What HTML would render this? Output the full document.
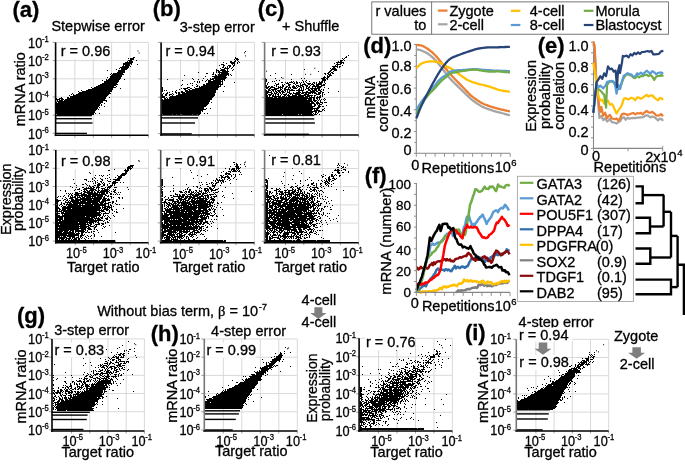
<!DOCTYPE html>
<html><head><meta charset="utf-8"><style>
html,body{margin:0;padding:0;background:#fff;}
svg{display:block;font-family:"Liberation Sans", sans-serif;will-change:transform;}
text{stroke:#000;stroke-width:0.3px;}
</style></head><body>
<svg width="685" height="473" viewBox="0 0 685 473">
<defs><filter id="soft" x="-5%" y="-5%" width="110%" height="110%"><feGaussianBlur stdDeviation="0.55"/></filter></defs>
<rect width="685" height="473" fill="#fff"/>
<line x1="74.88" y1="42.40" x2="74.88" y2="135.30" stroke="#d9d9d9" stroke-width="1"/>
<line x1="93.26" y1="42.40" x2="93.26" y2="135.30" stroke="#d9d9d9" stroke-width="1"/>
<line x1="111.64" y1="42.40" x2="111.64" y2="135.30" stroke="#d9d9d9" stroke-width="1"/>
<line x1="130.02" y1="42.40" x2="130.02" y2="135.30" stroke="#d9d9d9" stroke-width="1"/>
<line x1="148.40" y1="42.40" x2="148.40" y2="135.30" stroke="#d9d9d9" stroke-width="1"/>
<line x1="55.60" y1="42.40" x2="148.40" y2="42.40" stroke="#d9d9d9" stroke-width="1"/>
<line x1="55.60" y1="60.60" x2="148.40" y2="60.60" stroke="#d9d9d9" stroke-width="1"/>
<line x1="55.60" y1="78.80" x2="148.40" y2="78.80" stroke="#d9d9d9" stroke-width="1"/>
<line x1="55.60" y1="97.00" x2="148.40" y2="97.00" stroke="#d9d9d9" stroke-width="1"/>
<line x1="55.60" y1="115.20" x2="148.40" y2="115.20" stroke="#d9d9d9" stroke-width="1"/>
<g filter="url(#soft)"><path d="M133 57.5h2m-7 1h1m1 0h4m-4 1h4m-6 1h4m4 0h1m-10 1h1m1 0h4m-8 1h8m-10 1h9m-9 1h7m1 0h1m5 0h1m-15 1h1m1 0h5m-8 1h7m1 0h1m-11 1h9m-10 1h1m1 0h7m-12 1h1m4 0h6m-20 1h1m10 0h7m-7 1h7m-8 1h8m-14 1h1m1 0h10m-13 1h1m1 0h12m-13 1h11m-12 1h12m-15 1h1m2 0h11m-12 1h12m-15 1h1m1 0h12m4 0h1m-23 1h1m3 0h13m-15 1h15m-15 1h14m-16 1h15m-17 1h18m-20 1h18m-20 1h18m2 0h1m-26 1h1m2 0h22m-24 1h21m7 0h1m-33 1h25m-32 1h1m4 0h26m-34 1h1m3 0h30m-33 1h31m-38 1h1m5 0h33m-40 1h1m1 0h1m2 0h33m-40 1h1m3 0h35m-38 1h37m-46 1h1m5 0h2m1 0h36m3 0h1m-54 1h1m2 0h4m4 0h39m-50 1h4m1 0h3m1 0h40m-48 1h1m1 0h4m1 0h43m-50 1h46m3 0h1m-51 1h1m1 0h45m-47 1h45m3 0h1m-49 1h44m1 0h1m-46 1h44m1 0h1m-46 1h43m5 0h1m-49 1h42m1 0h1m-44 1h42m-42 1h41m1 0h1m-43 1h40m-40 1h39m-39 1h39m-39 1h38m1 0h1m3 0h1m-43 1h37" stroke="#000" stroke-width="1" fill="none"/>
<rect x="55.6" y="114.9" width="36.3" height="1.4" fill="#000" fill-opacity="1.0"/>
<rect x="55.6" y="118.0" width="36.3" height="1.4" fill="#000" fill-opacity="1.0"/>
<rect x="55.6" y="122.3" width="36.9" height="1.4" fill="#000" fill-opacity="1.0"/>
<rect x="55.6" y="132.7" width="31.4" height="1.4" fill="#000" fill-opacity="1.0"/>
<rect x="137.5" y="50.5" width="1" height="1"/>
<rect x="138.6" y="52.6" width="1" height="1"/>
</g>
<line x1="52.60" y1="42.40" x2="55.60" y2="42.40" stroke="#888" stroke-width="0.8"/>
<line x1="52.60" y1="60.60" x2="55.60" y2="60.60" stroke="#888" stroke-width="0.8"/>
<line x1="52.60" y1="78.80" x2="55.60" y2="78.80" stroke="#888" stroke-width="0.8"/>
<line x1="52.60" y1="97.00" x2="55.60" y2="97.00" stroke="#888" stroke-width="0.8"/>
<line x1="52.60" y1="115.20" x2="55.60" y2="115.20" stroke="#888" stroke-width="0.8"/>
<line x1="52.60" y1="133.40" x2="55.60" y2="133.40" stroke="#888" stroke-width="0.8"/>
<line x1="74.88" y1="135.30" x2="74.88" y2="137.80" stroke="#888" stroke-width="0.8"/>
<line x1="93.26" y1="135.30" x2="93.26" y2="137.80" stroke="#888" stroke-width="0.8"/>
<line x1="111.64" y1="135.30" x2="111.64" y2="137.80" stroke="#888" stroke-width="0.8"/>
<line x1="130.02" y1="135.30" x2="130.02" y2="137.80" stroke="#888" stroke-width="0.8"/>
<line x1="148.40" y1="135.30" x2="148.40" y2="137.80" stroke="#888" stroke-width="0.8"/>
<line x1="55.60" y1="42.40" x2="55.60" y2="136.10" stroke="#000" stroke-width="1.6"/>
<line x1="54.80" y1="135.30" x2="148.40" y2="135.30" stroke="#000" stroke-width="1.5"/>
<rect x="59.7" y="44.3" width="50.0" height="15" fill="#fff"/>
<text x="60.70" y="56.30" font-size="14.5" text-anchor="start" font-weight="normal" fill="#000" >r = 0.96</text>
<line x1="75.22" y1="150.10" x2="75.22" y2="242.70" stroke="#d9d9d9" stroke-width="1"/>
<line x1="93.54" y1="150.10" x2="93.54" y2="242.70" stroke="#d9d9d9" stroke-width="1"/>
<line x1="111.86" y1="150.10" x2="111.86" y2="242.70" stroke="#d9d9d9" stroke-width="1"/>
<line x1="130.18" y1="150.10" x2="130.18" y2="242.70" stroke="#d9d9d9" stroke-width="1"/>
<line x1="148.50" y1="150.10" x2="148.50" y2="242.70" stroke="#d9d9d9" stroke-width="1"/>
<line x1="55.80" y1="150.10" x2="148.50" y2="150.10" stroke="#d9d9d9" stroke-width="1"/>
<line x1="55.80" y1="168.30" x2="148.50" y2="168.30" stroke="#d9d9d9" stroke-width="1"/>
<line x1="55.80" y1="186.50" x2="148.50" y2="186.50" stroke="#d9d9d9" stroke-width="1"/>
<line x1="55.80" y1="204.70" x2="148.50" y2="204.70" stroke="#d9d9d9" stroke-width="1"/>
<line x1="55.80" y1="222.90" x2="148.50" y2="222.90" stroke="#d9d9d9" stroke-width="1"/>
<g filter="url(#soft)"><path d="M90 160.5h1m14 0h1m-15 5h1m38 0h4m-6 1h5m-6 1h4m1 0h1m-6 1h5m-18 1h1m10 0h1m1 0h2m1 0h1m-23 1h2m14 0h5m-4 1h3m-39 1h1m35 0h2m-37 1h1m31 0h5m-18 1h1m11 0h5m-31 1h1m3 0h1m1 0h1m1 0h1m3 0h1m9 0h1m2 0h5m-23 1h1m15 0h4m-28 1h1m14 0h1m5 0h1m2 0h4m-30 1h1m2 0h1m4 0h1m4 0h1m1 0h1m9 0h4m-48 1h1m10 0h3m5 0h1m8 0h2m7 0h1m2 0h7m-34 1h1m7 0h1m2 0h1m4 0h1m4 0h1m7 0h5m-32 1h1m1 0h1m1 0h1m2 0h1m4 0h2m6 0h3m2 0h3m-21 1h1m1 0h1m3 0h1m1 0h1m8 0h6m2 0h1m2 0h1m-50 1h1m10 0h1m7 0h1m1 0h1m2 0h2m2 0h1m1 0h1m4 0h1m2 0h4m-34 1h2m2 0h1m10 0h4m2 0h2m2 0h1m4 0h1m1 0h1m-39 1h1m10 0h1m1 0h1m4 0h2m1 0h3m3 0h2m2 0h1m2 0h3m1 0h1m-45 1h1m18 0h2m1 0h2m3 0h2m2 0h2m5 0h4m-40 1h1m3 0h1m5 0h2m2 0h1m1 0h1m1 0h2m1 0h2m1 0h4m5 0h1m1 0h4m3 0h3m10 0h1m-49 1h1m4 0h10m2 0h1m1 0h1m2 0h4m2 0h1m1 0h1m-35 1h1m1 0h3m3 0h4m3 0h6m2 0h1m3 0h1m1 0h5m4 0h1m1 0h1m12 0h1m-69 1h1m4 0h1m8 0h1m6 0h1m2 0h1m1 0h2m1 0h5m1 0h2m1 0h2m1 0h7m1 0h1m4 0h2m-51 1h1m13 0h1m3 0h3m1 0h3m1 0h2m1 0h1m2 0h2m1 0h9m2 0h1m1 0h2m-40 1h3m3 0h1m2 0h9m1 0h2m1 0h8m1 0h2m1 0h1m4 0h2m2 0h1m1 0h1m-55 1h1m1 0h1m1 0h1m1 0h1m2 0h7m1 0h2m2 0h11m1 0h1m1 0h4m1 0h2m2 0h2m4 0h1m-48 1h1m1 0h1m2 0h5m2 0h6m1 0h18m4 0h2m1 0h1m1 0h1m1 0h1m1 0h1m-56 1h1m3 0h1m2 0h2m2 0h16m1 0h11m2 0h2m1 0h1m-51 1h1m1 0h1m2 0h1m4 0h1m1 0h1m1 0h1m1 0h2m1 0h1m1 0h1m1 0h2m1 0h12m1 0h6m1 0h1m2 0h2m1 0h2m-55 1h1m7 0h1m4 0h6m1 0h4m1 0h3m1 0h5m1 0h1m1 0h8m1 0h2m6 0h1m1 0h1m4 0h2m2 0h1m-61 1h1m3 0h1m2 0h4m2 0h3m2 0h22m1 0h4m1 0h1m2 0h1m7 0h1m2 0h1m-67 1h2m6 0h2m1 0h1m3 0h3m1 0h17m1 0h8m1 0h4m1 0h3m-54 1h5m2 0h1m2 0h2m1 0h1m1 0h10m1 0h18m2 0h8m6 0h1m-61 1h3m6 0h1m2 0h1m1 0h9m1 0h6m1 0h13m1 0h5m6 0h2m2 0h1m-61 1h2m3 0h1m3 0h6m1 0h26m1 0h5m1 0h1m2 0h3m1 0h2m-58 1h2m3 0h1m1 0h2m2 0h1m1 0h3m1 0h18m1 0h7m1 0h3m1 0h5m3 0h1m2 0h1m-59 1h1m2 0h2m2 0h1m1 0h12m1 0h2m1 0h1m2 0h21m2 0h1m1 0h1m5 0h2m1 0h1m-64 1h2m1 0h1m2 0h1m3 0h1m1 0h25m1 0h12m2 0h1m1 0h2m-56 1h2m3 0h1m1 0h3m1 0h14m1 0h18m2 0h1m1 0h6m1 0h1m1 0h1m-58 1h3m3 0h39m1 0h4m1 0h5m-56 1h4m2 0h9m1 0h29m1 0h1m1 0h4m1 0h1m1 0h1m11 0h1m-68 1h2m1 0h2m1 0h4m1 0h33m1 0h1m1 0h6m2 0h2m3 0h1m-61 1h2m1 0h1m1 0h43m2 0h2m1 0h1m2 0h1m-57 1h6m1 0h34m2 0h1m1 0h4m4 0h1m4 0h1m1 0h1m-60 1h1m3 0h3m1 0h36m4 0h1m3 0h1m6 0h2m-62 1h4m1 0h39m1 0h1m1 0h6m3 0h1m-57 1h2m4 0h1m1 0h37m2 0h1m-48 1h4m2 0h39m2 0h1m1 0h1m1 0h1m5 0h1m-58 1h29m1 0h11m2 0h1m2 0h1m1 0h1m3 0h1m5 0h1m-59 1h7m1 0h26m1 0h4m1 0h1m1 0h1m1 0h3m4 0h1m1 0h1m-54 1h2m1 0h4m1 0h29m1 0h6m1 0h2m2 0h3m2 0h1m-55 1h7m1 0h30m1 0h1m1 0h4m5 0h2m-52 1h5m1 0h41m1 0h1m4 0h1m-54 1h2m1 0h29m1 0h8m1 0h1m4 0h1m3 0h1m-52 1h22m1 0h15m1 0h1m1 0h2m6 0h1m1 0h2m-53 1h30m1 0h1m1 0h3m1 0h1m4 0h2m1 0h3m1 0h1m-50 1h3m1 0h29m1 0h2m3 0h5m2 0h2m-48 1h23m1 0h6m2 0h3m3 0h1m1 0h1m4 0h1m7 0h1m-54 1h33m1 0h4m1 0h2m6 0h1m1 0h1m-50 1h2m1 0h20m1 0h7m1 0h2m4 0h2m8 0h1m-49 1h30m1 0h4m3 0h1m7 0h1m-47 1h23m2 0h5m2 0h4m2 0h1m1 0h1m-41 1h2m1 0h10m1 0h4m1 0h9m1 0h1m1 0h1m9 0h1m-42 1h7m1 0h4m1 0h2m1 0h2m1 0h10m2 0h1m3 0h1m1 0h2m-39 1h6m1 0h11m1 0h1m2 0h1m2 0h3m1 0h2m1 0h2m1 0h1m6 0h1m16 0h1m-60 1h19m1 0h4m1 0h2m10 0h1m-38 1h11m1 0h11m2 0h2m1 0h1m9 0h1m-39 1h23m1 0h4m3 0h1m3 0h1m2 0h1m-39 1h4m1 0h1m1 0h3m1 0h8m3 0h1m1 0h2m3 0h1m2 0h1m1 0h1m3 0h1m6 0h1m-46 1h11m2 0h2m1 0h3m1 0h3m1 0h1m1 0h1m3 0h1m-31 1h2m1 0h6m1 0h5m1 0h1m1 0h3m1 0h2m1 0h1m2 0h1m3 0h1m2 0h1m-36 1h2m1 0h1m1 0h3m1 0h2m1 0h2m1 0h1m1 0h4m1 0h2m5 0h1m-30 1h42m1 0h16m-59 1h20m1 0h9m1 0h28" stroke="#000" stroke-width="1" fill="none"/>
<rect x="55.8" y="240.5" width="59.7" height="1.4" fill="#000" fill-opacity="1.0"/>
<rect x="138.0" y="160.3" width="1" height="1"/>
<rect x="139.0" y="160.6" width="1" height="1"/>
</g>
<line x1="52.80" y1="150.10" x2="55.80" y2="150.10" stroke="#888" stroke-width="0.8"/>
<line x1="52.80" y1="168.30" x2="55.80" y2="168.30" stroke="#888" stroke-width="0.8"/>
<line x1="52.80" y1="186.50" x2="55.80" y2="186.50" stroke="#888" stroke-width="0.8"/>
<line x1="52.80" y1="204.70" x2="55.80" y2="204.70" stroke="#888" stroke-width="0.8"/>
<line x1="52.80" y1="222.90" x2="55.80" y2="222.90" stroke="#888" stroke-width="0.8"/>
<line x1="52.80" y1="241.10" x2="55.80" y2="241.10" stroke="#888" stroke-width="0.8"/>
<line x1="75.22" y1="242.70" x2="75.22" y2="245.20" stroke="#888" stroke-width="0.8"/>
<line x1="93.54" y1="242.70" x2="93.54" y2="245.20" stroke="#888" stroke-width="0.8"/>
<line x1="111.86" y1="242.70" x2="111.86" y2="245.20" stroke="#888" stroke-width="0.8"/>
<line x1="130.18" y1="242.70" x2="130.18" y2="245.20" stroke="#888" stroke-width="0.8"/>
<line x1="148.50" y1="242.70" x2="148.50" y2="245.20" stroke="#888" stroke-width="0.8"/>
<line x1="55.80" y1="150.10" x2="55.80" y2="243.50" stroke="#000" stroke-width="1.6"/>
<line x1="55.00" y1="242.70" x2="148.50" y2="242.70" stroke="#000" stroke-width="1.5"/>
<rect x="59.9" y="154.2" width="50.0" height="15" fill="#fff"/>
<text x="60.90" y="166.20" font-size="14.5" text-anchor="start" font-weight="normal" fill="#000" >r = 0.98</text>
<line x1="180.48" y1="42.40" x2="180.48" y2="134.90" stroke="#d9d9d9" stroke-width="1"/>
<line x1="198.96" y1="42.40" x2="198.96" y2="134.90" stroke="#d9d9d9" stroke-width="1"/>
<line x1="217.44" y1="42.40" x2="217.44" y2="134.90" stroke="#d9d9d9" stroke-width="1"/>
<line x1="235.92" y1="42.40" x2="235.92" y2="134.90" stroke="#d9d9d9" stroke-width="1"/>
<line x1="254.40" y1="42.40" x2="254.40" y2="134.90" stroke="#d9d9d9" stroke-width="1"/>
<line x1="161.10" y1="42.40" x2="254.40" y2="42.40" stroke="#d9d9d9" stroke-width="1"/>
<line x1="161.10" y1="60.65" x2="254.40" y2="60.65" stroke="#d9d9d9" stroke-width="1"/>
<line x1="161.10" y1="78.90" x2="254.40" y2="78.90" stroke="#d9d9d9" stroke-width="1"/>
<line x1="161.10" y1="97.15" x2="254.40" y2="97.15" stroke="#d9d9d9" stroke-width="1"/>
<line x1="161.10" y1="115.40" x2="254.40" y2="115.40" stroke="#d9d9d9" stroke-width="1"/>
<g filter="url(#soft)"><path d="M245 51.5h1m-11 6h1m-1 1h3m-4 1h1m1 0h3m-4 1h1m1 0h1m-8 1h2m2 0h2m2 0h1m-16 1h1m6 0h5m2 0h1m1 0h1m-14 1h1m4 0h4m2 0h1m-17 1h3m8 0h1m1 0h1m-16 1h1m3 0h2m3 0h3m2 0h2m-12 1h1m3 0h1m1 0h2m2 0h1m-12 1h2m1 0h1m1 0h1m1 0h1m2 0h1m-13 1h1m3 0h5m2 0h1m-16 1h1m4 0h4m2 0h1m5 0h1m-18 1h3m1 0h6m1 0h1m4 0h1m-17 1h1m1 0h2m2 0h7m-31 1h1m14 0h1m2 0h1m1 0h10m-22 1h2m5 0h1m5 0h1m1 0h8m-17 1h2m1 0h1m2 0h11m1 0h1m-47 1h1m30 0h2m1 0h9m1 0h1m2 0h1m-27 1h1m6 0h14m-12 1h13m-35 1h1m10 0h1m6 0h1m1 0h14m-59 1h1m25 0h1m4 0h1m8 0h1m2 0h4m1 0h10m-43 1h1m19 0h1m3 0h1m1 0h3m2 0h8m1 0h1m1 0h1m-31 1h1m2 0h1m1 0h1m5 0h1m2 0h15m-26 1h1m1 0h1m8 0h13m1 0h1m11 0h1m-45 1h1m1 0h1m13 0h15m1 0h1m-41 1h1m4 0h1m8 0h1m6 0h2m1 0h17m-42 1h1m10 0h1m4 0h1m5 0h16m1 0h1m-25 1h2m1 0h1m1 0h20m3 0h1m-63 1h1m24 0h3m4 0h1m4 0h20m-57 1h1m18 0h1m1 0h5m2 0h2m3 0h23m-56 1h1m16 0h1m4 0h2m2 0h2m2 0h26m-56 1h1m1 0h1m1 0h1m9 0h1m8 0h3m1 0h27m-54 1h1m9 0h1m2 0h1m5 0h2m2 0h31m7 0h1m-57 1h1m1 0h1m5 0h2m1 0h2m1 0h4m1 0h30m-53 1h1m2 0h2m4 0h1m3 0h1m1 0h2m2 0h33m-53 1h1m2 0h2m2 0h3m1 0h1m4 0h37m-53 1h1m2 0h2m2 0h1m2 0h1m3 0h39m-53 1h3m5 0h44m-52 1h3m1 0h1m2 0h44m-49 1h2m1 0h1m1 0h43m-50 1h1m1 0h48m-50 1h48m-48 1h48m-48 1h47m2 0h1m-50 1h47m-47 1h46m-46 1h45m-45 1h44m-44 1h42m-42 1h42m2 0h1m3 0h1m-49 1h44m-44 1h41m-41 1h39m1 0h1m-41 1h39m-39 1h39m3 0h1m2 0h1m-45 1h9m1 0h3m1 0h3m2 0h10m1 0h4m1 0h2" stroke="#000" stroke-width="1" fill="none"/>
<rect x="161.1" y="114.3" width="37.9" height="1.4" fill="#000" fill-opacity="1.0"/>
<rect x="161.1" y="117.2" width="36.9" height="1.4" fill="#000" fill-opacity="1.0"/>
<rect x="161.1" y="122.3" width="33.9" height="1.4" fill="#000" fill-opacity="1.0"/>
<rect x="161.1" y="133.2" width="30.7" height="1.4" fill="#000" fill-opacity="1.0"/>
<rect x="244.0" y="52.3" width="1" height="1"/>
<rect x="245.1" y="55.4" width="1" height="1"/>
</g>
<line x1="158.10" y1="42.40" x2="161.10" y2="42.40" stroke="#888" stroke-width="0.8"/>
<line x1="158.10" y1="60.65" x2="161.10" y2="60.65" stroke="#888" stroke-width="0.8"/>
<line x1="158.10" y1="78.90" x2="161.10" y2="78.90" stroke="#888" stroke-width="0.8"/>
<line x1="158.10" y1="97.15" x2="161.10" y2="97.15" stroke="#888" stroke-width="0.8"/>
<line x1="158.10" y1="115.40" x2="161.10" y2="115.40" stroke="#888" stroke-width="0.8"/>
<line x1="158.10" y1="133.65" x2="161.10" y2="133.65" stroke="#888" stroke-width="0.8"/>
<line x1="180.48" y1="134.90" x2="180.48" y2="137.40" stroke="#888" stroke-width="0.8"/>
<line x1="198.96" y1="134.90" x2="198.96" y2="137.40" stroke="#888" stroke-width="0.8"/>
<line x1="217.44" y1="134.90" x2="217.44" y2="137.40" stroke="#888" stroke-width="0.8"/>
<line x1="235.92" y1="134.90" x2="235.92" y2="137.40" stroke="#888" stroke-width="0.8"/>
<line x1="254.40" y1="134.90" x2="254.40" y2="137.40" stroke="#888" stroke-width="0.8"/>
<line x1="161.10" y1="42.40" x2="161.10" y2="135.70" stroke="#000" stroke-width="1.6"/>
<line x1="160.30" y1="134.90" x2="254.40" y2="134.90" stroke="#000" stroke-width="1.5"/>
<rect x="164.4" y="44.2" width="50.0" height="15" fill="#fff"/>
<text x="165.40" y="56.20" font-size="14.5" text-anchor="start" font-weight="normal" fill="#000" >r = 0.94</text>
<line x1="180.48" y1="150.10" x2="180.48" y2="242.70" stroke="#d9d9d9" stroke-width="1"/>
<line x1="198.96" y1="150.10" x2="198.96" y2="242.70" stroke="#d9d9d9" stroke-width="1"/>
<line x1="217.44" y1="150.10" x2="217.44" y2="242.70" stroke="#d9d9d9" stroke-width="1"/>
<line x1="235.92" y1="150.10" x2="235.92" y2="242.70" stroke="#d9d9d9" stroke-width="1"/>
<line x1="254.40" y1="150.10" x2="254.40" y2="242.70" stroke="#d9d9d9" stroke-width="1"/>
<line x1="160.70" y1="150.10" x2="254.40" y2="150.10" stroke="#d9d9d9" stroke-width="1"/>
<line x1="160.70" y1="168.30" x2="254.40" y2="168.30" stroke="#d9d9d9" stroke-width="1"/>
<line x1="160.70" y1="186.50" x2="254.40" y2="186.50" stroke="#d9d9d9" stroke-width="1"/>
<line x1="160.70" y1="204.70" x2="254.40" y2="204.70" stroke="#d9d9d9" stroke-width="1"/>
<line x1="160.70" y1="222.90" x2="254.40" y2="222.90" stroke="#d9d9d9" stroke-width="1"/>
<g filter="url(#soft)"><path d="M213 157.5h1m19 5h2m1 1h1m-58 1h1m54 0h1m1 0h2m2 0h1m3 0h1m-9 1h2m-8 1h1m4 0h4m6 0h1m-10 1h3m1 0h1m-61 1h1m44 0h1m3 0h1m2 0h3m1 0h4m-11 1h1m1 0h4m1 0h1m1 0h1m-49 1h1m40 0h1m1 0h3m1 0h1m1 0h1m-17 1h1m4 0h3m1 0h5m1 0h2m-49 1h1m29 0h1m4 0h1m3 0h1m9 0h1m-16 1h5m-23 1h1m17 0h2m1 0h3m2 0h1m1 0h1m3 0h1m1 0h1m-45 1h1m22 0h2m1 0h1m3 0h1m3 0h1m3 0h1m-35 1h1m19 0h2m2 0h4m2 0h1m3 0h1m-64 1h1m46 0h1m1 0h5m1 0h3m4 0h1m-42 1h1m22 0h1m4 0h1m2 0h1m3 0h2m3 0h1m-73 1h2m53 0h2m1 0h1m2 0h1m1 0h1m2 0h1m2 0h1m5 0h1m-76 1h2m50 0h1m1 0h1m1 0h7m5 0h1m-69 1h2m52 0h1m2 0h1m1 0h1m1 0h2m1 0h1m-65 1h2m36 0h1m1 0h1m4 0h1m4 0h2m3 0h3m2 0h1m1 0h1m-63 1h2m46 0h1m1 0h1m1 0h1m1 0h2m4 0h1m8 0h1m-70 1h2m23 0h1m15 0h1m3 0h2m4 0h1m2 0h1m-55 1h2m10 0h1m26 0h1m11 0h4m4 0h1m-60 1h1m2 0h1m28 0h1m2 0h2m9 0h2m3 0h3m-53 1h1m25 0h1m8 0h1m2 0h1m8 0h2m3 0h1m10 0h1m-65 1h1m11 0h1m13 0h1m11 0h1m1 0h1m2 0h4m1 0h3m1 0h1m4 0h1m-58 1h2m22 0h1m1 0h1m1 0h2m13 0h2m1 0h2m1 0h3m2 0h3m-57 1h1m11 0h1m9 0h1m5 0h2m4 0h2m2 0h1m1 0h1m2 0h5m2 0h5m-55 1h2m7 0h1m2 0h1m5 0h3m3 0h2m1 0h2m1 0h1m1 0h1m2 0h1m2 0h3m3 0h2m1 0h1m2 0h1m6 0h1m3 0h1m28 0h1m-91 1h2m17 0h3m1 0h1m1 0h1m1 0h2m1 0h3m1 0h1m1 0h2m2 0h1m1 0h1m1 0h1m1 0h1m1 0h1m3 0h1m1 0h3m-57 1h2m12 0h1m9 0h1m4 0h2m2 0h1m1 0h1m1 0h3m1 0h5m7 0h1m17 0h1m-71 1h1m12 0h3m1 0h1m2 0h3m1 0h1m1 0h6m1 0h6m1 0h2m3 0h1m1 0h5m1 0h1m-55 1h2m7 0h2m1 0h1m3 0h1m1 0h2m1 0h3m2 0h1m2 0h1m1 0h7m2 0h2m1 0h5m1 0h1m5 0h1m6 0h1m-63 1h2m2 0h1m7 0h11m1 0h7m1 0h5m1 0h5m1 0h1m1 0h2m2 0h1m1 0h4m5 0h1m-59 1h1m3 0h1m2 0h2m5 0h2m1 0h3m1 0h3m1 0h6m2 0h4m2 0h1m1 0h1m1 0h2m1 0h2m2 0h1m9 0h1m-64 1h2m5 0h1m4 0h1m4 0h4m2 0h3m1 0h3m1 0h15m1 0h1m2 0h3m19 0h1m-73 1h2m2 0h3m1 0h5m2 0h2m1 0h7m2 0h2m1 0h2m1 0h2m1 0h1m1 0h5m1 0h3m2 0h5m-54 1h2m2 0h1m2 0h6m3 0h2m1 0h2m1 0h1m1 0h4m2 0h4m1 0h11m2 0h1m2 0h3m-54 1h1m2 0h2m6 0h7m1 0h1m1 0h4m1 0h1m1 0h21m1 0h1m1 0h1m-53 1h6m1 0h2m2 0h1m1 0h2m1 0h13m1 0h15m1 0h7m3 0h1m3 0h1m-61 1h1m2 0h1m1 0h2m1 0h3m1 0h4m1 0h2m1 0h10m1 0h16m1 0h2m1 0h1m4 0h2m-58 1h2m1 0h1m2 0h3m1 0h3m1 0h1m1 0h2m2 0h6m1 0h7m1 0h1m1 0h13m3 0h1m-54 1h2m1 0h1m1 0h1m1 0h3m1 0h17m1 0h2m1 0h15m1 0h4m4 0h1m-57 1h2m1 0h1m2 0h2m1 0h1m1 0h6m1 0h1m1 0h1m1 0h14m1 0h13m1 0h1m1 0h1m-54 1h2m3 0h1m1 0h1m2 0h8m1 0h29m2 0h1m4 0h1m3 0h1m-60 1h2m1 0h2m1 0h1m1 0h3m1 0h9m1 0h14m1 0h9m2 0h1m1 0h1m1 0h1m-53 1h2m2 0h15m1 0h15m2 0h3m2 0h4m1 0h3m1 0h1m1 0h2m6 0h1m-62 1h2m2 0h6m2 0h1m1 0h10m1 0h6m1 0h15m1 0h2m3 0h1m-54 1h4m1 0h14m1 0h12m1 0h10m1 0h4m4 0h2m-54 1h1m2 0h1m1 0h18m1 0h2m1 0h13m1 0h6m2 0h1m3 0h1m-54 1h2m1 0h3m2 0h41m1 0h1m3 0h1m-55 1h2m1 0h8m1 0h27m1 0h1m1 0h1m1 0h5m4 0h1m-54 1h8m1 0h22m1 0h6m1 0h6m1 0h1m2 0h4m2 0h1m6 0h1m-63 1h7m2 0h33m1 0h1m1 0h3m3 0h1m3 0h2m-57 1h20m1 0h17m1 0h7m1 0h1m-48 1h21m1 0h6m1 0h8m3 0h6m1 0h1m-48 1h9m1 0h1m1 0h2m1 0h1m1 0h28m5 0h1m2 0h1m1 0h1m-56 1h2m1 0h23m1 0h7m1 0h2m1 0h4m2 0h1m-45 1h1m2 0h26m1 0h12m2 0h3m2 0h1m1 0h1m-52 1h2m1 0h4m1 0h13m1 0h16m1 0h2m1 0h5m5 0h1m-53 1h2m1 0h5m1 0h24m1 0h2m1 0h4m1 0h2m2 0h2m2 0h1m-51 1h4m1 0h29m1 0h2m1 0h2m1 0h2m5 0h1m-49 1h11m1 0h3m1 0h3m1 0h8m1 0h1m1 0h2m1 0h2m1 0h1m6 0h1m-45 1h8m1 0h15m1 0h6m1 0h7m1 0h3m3 0h1m3 0h1m-51 1h37m1 0h3m4 0h2m-46 1h6m1 0h29m1 0h3m1 0h1m13 0h1m-57 1h2m1 0h2m1 0h28m1 0h1m1 0h2m1 0h1m3 0h1m-45 1h2m1 0h8m1 0h9m1 0h2m1 0h2m1 0h1m3 0h5m2 0h2m1 0h2m2 0h1m-46 1h14m1 0h1m1 0h11m2 0h3m2 0h2m1 0h1m4 0h1m-45 1h5m2 0h9m2 0h3m1 0h5m2 0h3m1 0h6m-39 1h3m3 0h5m1 0h1m1 0h1m1 0h3m1 0h2m3 0h1m2 0h2m1 0h1m1 0h1m1 0h1m4 0h1m-41 1h5m1 0h8m1 0h2m1 0h3m2 0h2m2 0h8m4 0h1m1 0h2m-43 1h7m1 0h6m2 0h1m1 0h6m4 0h1m1 0h2m3 0h1m-36 1h3m2 0h4m1 0h2m1 0h9m1 0h1m1 0h2m2 0h2m1 0h1m10 0h1m-44 1h2m1 0h7m1 0h4m1 0h5m1 0h1m2 0h1m1 0h1m3 0h1m4 0h1m-37 1h2m1 0h1m1 0h4m1 0h1m1 0h1m1 0h1m1 0h1m1 0h1m1 0h2m3 0h1m1 0h1m7 0h1m9 0h1m-46 1h1m3 0h5m1 0h7m2 0h1m3 0h1m3 0h2m3 0h2m10 0h1m-45 1h11m1 0h50m1 0h2m-65 1h3m1 0h29m1 0h3m1 0h6m1 0h20" stroke="#000" stroke-width="1" fill="none"/>
<rect x="160.7" y="240.8" width="64.9" height="1.4" fill="#000" fill-opacity="1.0"/>
<rect x="244.0" y="162.3" width="1" height="1"/>
<rect x="245.0" y="161.5" width="1" height="1"/>
</g>
<line x1="157.70" y1="150.10" x2="160.70" y2="150.10" stroke="#888" stroke-width="0.8"/>
<line x1="157.70" y1="168.30" x2="160.70" y2="168.30" stroke="#888" stroke-width="0.8"/>
<line x1="157.70" y1="186.50" x2="160.70" y2="186.50" stroke="#888" stroke-width="0.8"/>
<line x1="157.70" y1="204.70" x2="160.70" y2="204.70" stroke="#888" stroke-width="0.8"/>
<line x1="157.70" y1="222.90" x2="160.70" y2="222.90" stroke="#888" stroke-width="0.8"/>
<line x1="157.70" y1="241.10" x2="160.70" y2="241.10" stroke="#888" stroke-width="0.8"/>
<line x1="180.48" y1="242.70" x2="180.48" y2="245.20" stroke="#888" stroke-width="0.8"/>
<line x1="198.96" y1="242.70" x2="198.96" y2="245.20" stroke="#888" stroke-width="0.8"/>
<line x1="217.44" y1="242.70" x2="217.44" y2="245.20" stroke="#888" stroke-width="0.8"/>
<line x1="235.92" y1="242.70" x2="235.92" y2="245.20" stroke="#888" stroke-width="0.8"/>
<line x1="254.40" y1="242.70" x2="254.40" y2="245.20" stroke="#888" stroke-width="0.8"/>
<line x1="160.70" y1="150.10" x2="160.70" y2="243.50" stroke="#555" stroke-width="1.6"/>
<line x1="159.90" y1="242.70" x2="254.40" y2="242.70" stroke="#000" stroke-width="1.5"/>
<rect x="164.4" y="153.6" width="50.0" height="15" fill="#fff"/>
<text x="165.40" y="165.60" font-size="14.5" text-anchor="start" font-weight="normal" fill="#000" >r = 0.91</text>
<line x1="285.50" y1="42.40" x2="285.50" y2="135.10" stroke="#d9d9d9" stroke-width="1"/>
<line x1="303.80" y1="42.40" x2="303.80" y2="135.10" stroke="#d9d9d9" stroke-width="1"/>
<line x1="322.10" y1="42.40" x2="322.10" y2="135.10" stroke="#d9d9d9" stroke-width="1"/>
<line x1="340.40" y1="42.40" x2="340.40" y2="135.10" stroke="#d9d9d9" stroke-width="1"/>
<line x1="358.70" y1="42.40" x2="358.70" y2="135.10" stroke="#d9d9d9" stroke-width="1"/>
<line x1="264.60" y1="42.40" x2="358.70" y2="42.40" stroke="#d9d9d9" stroke-width="1"/>
<line x1="264.60" y1="60.70" x2="358.70" y2="60.70" stroke="#d9d9d9" stroke-width="1"/>
<line x1="264.60" y1="79.00" x2="358.70" y2="79.00" stroke="#d9d9d9" stroke-width="1"/>
<line x1="264.60" y1="97.30" x2="358.70" y2="97.30" stroke="#d9d9d9" stroke-width="1"/>
<line x1="264.60" y1="115.60" x2="358.70" y2="115.60" stroke="#d9d9d9" stroke-width="1"/>
<g filter="url(#soft)"><path d="M348 55.5h1m-3 1h1m-2 1h2m-5 1h1m1 0h1m-2 1h1m-4 1h3m1 0h1m-7 1h1m1 0h2m-6 1h8m-10 1h1m2 0h1m2 0h2m1 0h1m-8 1h5m-6 1h1m1 0h1m4 0h1m-11 1h6m1 0h2m-8 1h2m2 0h1m1 0h1m-10 1h1m1 0h4m-32 1h1m26 0h6m-7 1h2m2 0h3m-19 1h1m10 0h2m2 0h1m-6 1h2m1 0h2m-58 1h1m48 0h2m1 0h2m1 0h1m1 0h2m-43 1h1m33 0h1m2 0h3m-61 1h1m56 0h1m1 0h3m-8 1h1m2 0h3m-49 1h1m41 0h3m1 0h2m-64 1h1m9 0h1m25 0h1m2 0h1m16 0h4m1 0h2m-63 1h2m24 0h1m30 0h4m1 0h1m-63 1h2m9 0h1m2 0h1m22 0h1m3 0h1m15 0h4m-61 1h2m5 0h1m1 0h1m16 0h1m1 0h1m2 0h1m6 0h1m1 0h1m3 0h1m9 0h1m1 0h2m1 0h1m-60 1h1m2 0h1m12 0h2m2 0h1m1 0h1m1 0h4m1 0h1m1 0h2m1 0h1m1 0h1m1 0h1m2 0h1m6 0h2m1 0h1m2 0h4m1 0h1m-60 1h1m1 0h1m7 0h1m2 0h1m7 0h3m4 0h2m1 0h2m2 0h1m3 0h1m2 0h4m1 0h1m1 0h1m1 0h1m1 0h4m3 0h1m-61 1h1m1 0h1m8 0h3m3 0h1m1 0h1m3 0h3m4 0h1m4 0h1m1 0h4m2 0h2m1 0h3m2 0h6m1 0h2m-60 1h2m7 0h1m1 0h1m5 0h2m4 0h2m3 0h1m2 0h3m1 0h3m2 0h3m2 0h1m2 0h2m1 0h3m2 0h4m-60 1h2m1 0h2m1 0h2m3 0h1m1 0h1m1 0h1m1 0h2m2 0h2m1 0h1m2 0h3m1 0h1m1 0h3m1 0h2m2 0h2m1 0h1m2 0h10m-57 1h4m1 0h5m3 0h5m2 0h2m1 0h3m1 0h4m1 0h1m2 0h2m1 0h1m2 0h1m1 0h2m2 0h1m2 0h1m1 0h4m3 0h1m-59 1h2m1 0h2m3 0h5m1 0h1m1 0h1m1 0h2m2 0h1m1 0h1m2 0h4m2 0h1m1 0h1m1 0h1m2 0h3m1 0h10m8 0h1m-64 1h1m2 0h2m1 0h6m3 0h2m2 0h6m1 0h2m5 0h2m1 0h1m1 0h1m1 0h1m2 0h2m1 0h2m1 0h3m1 0h2m1 0h1m1 0h1m-59 1h2m1 0h3m1 0h2m1 0h1m1 0h4m1 0h1m1 0h2m1 0h1m1 0h6m1 0h8m4 0h3m1 0h5m1 0h3m2 0h1m-59 1h4m2 0h1m1 0h1m1 0h2m1 0h2m1 0h3m1 0h1m1 0h1m1 0h1m8 0h2m2 0h1m3 0h2m2 0h5m1 0h2m2 0h2m16 0h1m-74 1h7m2 0h1m1 0h2m1 0h2m1 0h3m2 0h3m3 0h1m2 0h5m1 0h14m2 0h3m1 0h2m4 0h1m-64 1h3m3 0h2m1 0h3m1 0h1m1 0h1m1 0h1m3 0h1m2 0h3m1 0h7m1 0h3m1 0h2m1 0h3m1 0h1m1 0h3m1 0h3m1 0h1m-58 1h2m1 0h4m1 0h1m1 0h1m1 0h2m2 0h1m1 0h4m1 0h1m1 0h1m1 0h1m2 0h6m3 0h5m7 0h4m2 0h1m1 0h1m-60 1h3m1 0h2m1 0h2m1 0h1m2 0h1m1 0h1m3 0h2m1 0h3m2 0h5m1 0h8m1 0h6m1 0h2m4 0h1m1 0h1m-58 1h3m1 0h1m2 0h9m1 0h3m1 0h1m1 0h16m1 0h5m1 0h1m2 0h1m2 0h1m1 0h2m1 0h1m-58 1h8m1 0h3m1 0h30m1 0h6m1 0h5m-56 1h47m1 0h2m1 0h2m1 0h1m4 0h1m-60 1h42m1 0h4m1 0h2m2 0h1m1 0h1m1 0h1m1 0h1m1 0h1m-61 1h47m1 0h4m1 0h1m1 0h1m3 0h1m-60 1h48m1 0h2m1 0h1m2 0h1m-56 1h45m1 0h3m2 0h3m1 0h3m1 0h3m-62 1h50m1 0h4m2 0h1m-58 1h47m2 0h2m1 0h1m1 0h3m-57 1h47m2 0h2m2 0h2m6 0h1m-62 1h50m3 0h3m1 0h2m-59 1h48m4 0h3m-55 1h54m5 0h1m-60 1h48m1 0h1m1 0h2m4 0h2m-59 1h47m2 0h6m2 0h1m1 0h1m-60 1h52m1 0h4m-57 1h48m2 0h2m1 0h1m-54 1h47m1 0h1m1 0h1m1 0h1m-53 1h17m1 0h15m1 0h2m1 0h11m1 0h3m2 0h1" stroke="#000" stroke-width="1" fill="none"/>
<rect x="264.6" y="114.7" width="49.7" height="1.4" fill="#000" fill-opacity="1.0"/>
<rect x="264.6" y="118.2" width="49.7" height="1.4" fill="#000" fill-opacity="1.0"/>
<rect x="264.6" y="122.3" width="50.3" height="1.4" fill="#000" fill-opacity="1.0"/>
<rect x="264.6" y="133.6" width="44.5" height="1.4" fill="#000" fill-opacity="1.0"/>
<rect x="314.3" y="67.7" width="1" height="1"/>
<rect x="282.5" y="77.9" width="1" height="1"/>
<rect x="305.0" y="73.8" width="1" height="1"/>
<rect x="310.2" y="73.8" width="1" height="1"/>
<rect x="266.1" y="70.7" width="1" height="1"/>
</g>
<line x1="261.60" y1="42.40" x2="264.60" y2="42.40" stroke="#888" stroke-width="0.8"/>
<line x1="261.60" y1="60.70" x2="264.60" y2="60.70" stroke="#888" stroke-width="0.8"/>
<line x1="261.60" y1="79.00" x2="264.60" y2="79.00" stroke="#888" stroke-width="0.8"/>
<line x1="261.60" y1="97.30" x2="264.60" y2="97.30" stroke="#888" stroke-width="0.8"/>
<line x1="261.60" y1="115.60" x2="264.60" y2="115.60" stroke="#888" stroke-width="0.8"/>
<line x1="261.60" y1="133.90" x2="264.60" y2="133.90" stroke="#888" stroke-width="0.8"/>
<line x1="285.50" y1="135.10" x2="285.50" y2="137.60" stroke="#888" stroke-width="0.8"/>
<line x1="303.80" y1="135.10" x2="303.80" y2="137.60" stroke="#888" stroke-width="0.8"/>
<line x1="322.10" y1="135.10" x2="322.10" y2="137.60" stroke="#888" stroke-width="0.8"/>
<line x1="340.40" y1="135.10" x2="340.40" y2="137.60" stroke="#888" stroke-width="0.8"/>
<line x1="358.70" y1="135.10" x2="358.70" y2="137.60" stroke="#888" stroke-width="0.8"/>
<line x1="264.60" y1="42.40" x2="264.60" y2="135.90" stroke="#777" stroke-width="1.6"/>
<line x1="263.80" y1="135.10" x2="358.70" y2="135.10" stroke="#000" stroke-width="1.5"/>
<rect x="270.2" y="43.9" width="50.0" height="15" fill="#fff"/>
<text x="271.20" y="55.90" font-size="14.5" text-anchor="start" font-weight="normal" fill="#000" >r = 0.93</text>
<line x1="285.50" y1="150.30" x2="285.50" y2="242.70" stroke="#d9d9d9" stroke-width="1"/>
<line x1="303.80" y1="150.30" x2="303.80" y2="242.70" stroke="#d9d9d9" stroke-width="1"/>
<line x1="322.10" y1="150.30" x2="322.10" y2="242.70" stroke="#d9d9d9" stroke-width="1"/>
<line x1="340.40" y1="150.30" x2="340.40" y2="242.70" stroke="#d9d9d9" stroke-width="1"/>
<line x1="358.70" y1="150.30" x2="358.70" y2="242.70" stroke="#d9d9d9" stroke-width="1"/>
<line x1="264.60" y1="150.30" x2="358.70" y2="150.30" stroke="#d9d9d9" stroke-width="1"/>
<line x1="264.60" y1="168.50" x2="358.70" y2="168.50" stroke="#d9d9d9" stroke-width="1"/>
<line x1="264.60" y1="186.70" x2="358.70" y2="186.70" stroke="#d9d9d9" stroke-width="1"/>
<line x1="264.60" y1="204.90" x2="358.70" y2="204.90" stroke="#d9d9d9" stroke-width="1"/>
<line x1="264.60" y1="223.10" x2="358.70" y2="223.10" stroke="#d9d9d9" stroke-width="1"/>
<g filter="url(#soft)"><path d="M269 155.5h1m47 0h1m20 8h1m-1 1h1m-2 1h1m1 0h1m-42 1h1m42 0h1m1 0h1m-7 1h2m3 0h2m1 0h1m-54 1h1m48 0h1m-7 1h1m1 0h2m4 0h3m-12 1h6m1 0h1m3 0h1m-47 1h1m37 0h2m9 0h1m-65 1h1m47 0h1m4 0h3m2 0h2m4 0h1m-48 1h1m36 0h2m-17 1h1m7 0h2m2 0h1m-43 1h1m27 0h1m3 0h1m5 0h2m1 0h1m1 0h1m2 0h2m-58 1h1m38 0h2m5 0h1m1 0h3m5 0h1m-31 1h1m12 0h1m5 0h2m3 0h1m-66 1h1m56 0h1m2 0h2m2 0h3m1 0h1m-72 1h2m25 0h1m14 0h1m18 0h1m1 0h3m3 0h2m-71 1h3m32 0h1m4 0h1m5 0h1m6 0h1m2 0h1m2 0h1m1 0h1m1 0h2m2 0h2m-68 1h2m13 0h1m18 0h1m21 0h1m2 0h3m1 0h1m1 0h1m-67 1h3m45 0h1m10 0h2m1 0h2m-62 1h1m14 0h1m12 0h1m4 0h1m10 0h3m2 0h1m3 0h2m3 0h2m1 0h2m3 0h1m-69 1h1m1 0h1m20 0h1m19 0h1m2 0h2m3 0h1m3 0h1m4 0h1m1 0h1m3 0h1m-67 1h3m16 0h1m12 0h1m5 0h1m3 0h2m4 0h2m1 0h1m4 0h1m4 0h1m1 0h1m-64 1h3m23 0h2m2 0h2m5 0h1m7 0h1m5 0h1m3 0h1m2 0h1m4 0h1m2 0h1m-66 1h2m16 0h1m5 0h2m1 0h1m3 0h1m1 0h2m6 0h1m1 0h1m2 0h6m3 0h1m-56 1h2m3 0h2m3 0h1m2 0h1m12 0h1m4 0h3m10 0h1m3 0h1m2 0h2m5 0h1m-60 1h2m9 0h3m1 0h1m6 0h1m4 0h2m1 0h1m2 0h3m1 0h1m3 0h1m3 0h2m1 0h3m20 0h1m-72 1h3m6 0h3m2 0h1m4 0h3m1 0h5m1 0h2m1 0h2m1 0h2m7 0h1m2 0h3m1 0h1m1 0h1m1 0h2m21 0h1m-79 1h1m1 0h1m1 0h2m5 0h1m1 0h5m2 0h1m2 0h2m2 0h4m2 0h1m1 0h2m2 0h1m5 0h2m2 0h1m1 0h1m2 0h1m2 0h1m-58 1h3m1 0h2m1 0h1m3 0h1m3 0h3m1 0h6m1 0h4m1 0h3m1 0h1m1 0h1m1 0h1m2 0h1m9 0h1m5 0h1m-59 1h3m1 0h1m1 0h1m4 0h2m1 0h1m1 0h3m1 0h1m2 0h6m1 0h1m1 0h1m1 0h4m1 0h1m2 0h3m2 0h1m2 0h1m1 0h1m1 0h1m-55 1h3m1 0h1m6 0h1m2 0h5m1 0h7m1 0h7m2 0h2m1 0h2m2 0h1m1 0h1m2 0h1m1 0h1m2 0h1m1 0h1m-57 1h4m3 0h2m1 0h1m1 0h1m3 0h1m2 0h2m1 0h1m1 0h3m3 0h5m1 0h4m1 0h2m1 0h1m1 0h2m4 0h1m1 0h1m-55 1h7m1 0h2m1 0h1m3 0h2m1 0h1m1 0h1m1 0h3m1 0h1m1 0h3m1 0h1m1 0h1m2 0h1m1 0h4m1 0h1m1 0h5m3 0h1m2 0h1m2 0h1m-61 1h6m2 0h2m2 0h2m1 0h4m1 0h2m2 0h2m1 0h7m1 0h3m1 0h1m1 0h3m1 0h4m3 0h1m9 0h1m-63 1h1m1 0h1m1 0h3m2 0h5m1 0h7m1 0h2m1 0h17m1 0h4m1 0h1m2 0h1m2 0h1m1 0h1m-58 1h5m1 0h3m1 0h1m1 0h1m3 0h8m1 0h8m1 0h8m1 0h2m1 0h2m1 0h1m8 0h1m1 0h1m-61 1h1m1 0h2m1 0h1m2 0h10m2 0h3m1 0h10m1 0h1m1 0h4m1 0h1m1 0h2m1 0h1m1 0h1m2 0h1m13 0h1m-67 1h1m1 0h4m1 0h2m2 0h6m2 0h3m2 0h6m1 0h5m1 0h1m1 0h5m2 0h3m3 0h3m4 0h1m3 0h1m-64 1h5m1 0h6m1 0h7m1 0h6m1 0h1m1 0h3m1 0h7m1 0h2m1 0h4m2 0h2m8 0h1m-62 1h3m1 0h2m1 0h9m2 0h5m1 0h9m1 0h3m1 0h7m1 0h1m1 0h3m2 0h1m1 0h2m4 0h1m2 0h1m-65 1h3m1 0h1m2 0h9m1 0h29m1 0h3m1 0h1m1 0h1m1 0h1m-56 1h3m1 0h5m1 0h1m1 0h9m1 0h19m1 0h4m1 0h4m1 0h4m11 0h1m-68 1h3m1 0h4m1 0h3m1 0h19m1 0h11m1 0h4m2 0h1m1 0h1m5 0h2m1 0h1m-63 1h3m1 0h4m2 0h4m1 0h3m2 0h8m1 0h18m1 0h1m1 0h1m1 0h1m6 0h1m5 0h1m-66 1h4m2 0h2m1 0h3m2 0h2m1 0h2m1 0h24m1 0h1m2 0h3m1 0h1m1 0h1m1 0h2m-58 1h3m1 0h2m1 0h22m1 0h14m4 0h2m3 0h1m2 0h1m1 0h1m6 0h2m-67 1h10m1 0h1m1 0h2m1 0h6m1 0h19m1 0h3m1 0h3m1 0h3m2 0h1m-57 1h3m1 0h3m1 0h4m1 0h8m1 0h15m1 0h4m1 0h1m1 0h4m3 0h1m2 0h1m-56 1h38m1 0h1m1 0h6m2 0h1m1 0h1m1 0h1m4 0h1m-59 1h10m1 0h19m1 0h21m1 0h2m3 0h1m3 0h1m1 0h1m-65 1h3m1 0h1m1 0h11m1 0h13m1 0h5m2 0h8m1 0h1m5 0h1m1 0h1m1 0h1m-59 1h3m1 0h4m1 0h33m1 0h5m1 0h3m5 0h1m2 0h1m12 0h1m-74 1h3m1 0h3m1 0h2m1 0h39m3 0h2m7 0h1m-63 1h14m1 0h18m1 0h8m2 0h5m3 0h1m2 0h1m-56 1h5m1 0h2m1 0h15m1 0h4m1 0h21m3 0h2m8 0h1m6 0h1m-72 1h4m1 0h1m1 0h4m1 0h4m1 0h24m1 0h3m1 0h4m1 0h2m15 0h1m-69 1h5m3 0h16m1 0h2m1 0h15m1 0h4m2 0h2m1 0h1m2 0h1m3 0h1m4 0h1m-66 1h12m1 0h12m2 0h8m1 0h6m3 0h1m1 0h2m2 0h1m3 0h1m16 0h1m-73 1h3m1 0h7m1 0h4m1 0h22m1 0h2m2 0h4m8 0h1m4 0h1m-62 1h27m2 0h6m1 0h4m1 0h2m1 0h3m4 0h2m1 0h1m-55 1h3m2 0h5m1 0h14m1 0h16m1 0h1m1 0h1m1 0h4m6 0h1m4 0h1m-63 1h4m2 0h5m1 0h13m2 0h17m2 0h1m1 0h2m1 0h1m-52 1h6m1 0h6m1 0h1m1 0h15m1 0h14m2 0h2m5 0h1m-56 1h5m2 0h11m1 0h26m5 0h3m-53 1h10m1 0h15m2 0h3m2 0h3m2 0h4m2 0h2m2 0h1m-48 1h2m1 0h2m1 0h1m1 0h3m2 0h3m1 0h14m1 0h4m1 0h2m2 0h6m1 0h1m-50 1h1m1 0h2m1 0h3m1 0h1m1 0h2m1 0h5m3 0h3m1 0h6m2 0h3m3 0h1m2 0h1m2 0h1m1 0h1m3 0h1m1 0h2m1 0h1m-58 1h1m1 0h1m1 0h1m1 0h1m1 0h3m2 0h2m1 0h2m1 0h1m2 0h1m1 0h1m1 0h1m2 0h4m1 0h5m2 0h1m3 0h2m1 0h1m1 0h1m-51 1h4m1 0h1m1 0h3m1 0h2m1 0h3m2 0h11m1 0h7m1 0h3m2 0h4m3 0h1m-52 1h5m3 0h1m3 0h1m2 0h1m2 0h6m3 0h4m1 0h2m2 0h1m5 0h1m1 0h1m4 0h2m-51 1h4m1 0h1m2 0h3m1 0h1m1 0h1m3 0h6m2 0h1m2 0h2m1 0h2m1 0h3m2 0h2m1 0h1m1 0h1m5 0h1m1 0h1m-54 1h3m2 0h1m1 0h5m1 0h3m1 0h4m1 0h1m3 0h1m1 0h2m1 0h1m2 0h2m3 0h1m1 0h1m2 0h1m-45 1h3m1 0h1m1 0h2m5 0h1m1 0h14m1 0h4m1 0h1m1 0h1m6 0h1m-45 1h3m1 0h2m1 0h7m1 0h1m2 0h4m1 0h1m1 0h2m1 0h1m2 0h5m3 0h1m1 0h2m1 0h1m11 0h1m-56 1h2m1 0h4m4 0h3m2 0h1m1 0h2m1 0h1m1 0h1m1 0h1m1 0h1m1 0h2m1 0h1m1 0h2m2 0h2m17 0h1m-59 1h3m1 0h2m3 0h1m4 0h2m2 0h2m12 0h3m-35 1h27m1 0h2m1 0h5m2 0h13m1 0h13m-65 1h7m1 0h4m1 0h2m1 0h4m1 0h3m1 0h1m1 0h3m1 0h8m1 0h15m1 0h5m1 0h3" stroke="#000" stroke-width="1" fill="none"/>
<rect x="264.6" y="240.6" width="65.4" height="1.4" fill="#000" fill-opacity="1.0"/>
<rect x="344.0" y="163.0" width="1" height="1"/>
<rect x="347.0" y="164.5" width="1" height="1"/>
</g>
<line x1="261.60" y1="150.30" x2="264.60" y2="150.30" stroke="#888" stroke-width="0.8"/>
<line x1="261.60" y1="168.50" x2="264.60" y2="168.50" stroke="#888" stroke-width="0.8"/>
<line x1="261.60" y1="186.70" x2="264.60" y2="186.70" stroke="#888" stroke-width="0.8"/>
<line x1="261.60" y1="204.90" x2="264.60" y2="204.90" stroke="#888" stroke-width="0.8"/>
<line x1="261.60" y1="223.10" x2="264.60" y2="223.10" stroke="#888" stroke-width="0.8"/>
<line x1="261.60" y1="241.30" x2="264.60" y2="241.30" stroke="#888" stroke-width="0.8"/>
<line x1="285.50" y1="242.70" x2="285.50" y2="245.20" stroke="#888" stroke-width="0.8"/>
<line x1="303.80" y1="242.70" x2="303.80" y2="245.20" stroke="#888" stroke-width="0.8"/>
<line x1="322.10" y1="242.70" x2="322.10" y2="245.20" stroke="#888" stroke-width="0.8"/>
<line x1="340.40" y1="242.70" x2="340.40" y2="245.20" stroke="#888" stroke-width="0.8"/>
<line x1="358.70" y1="242.70" x2="358.70" y2="245.20" stroke="#888" stroke-width="0.8"/>
<line x1="264.60" y1="150.30" x2="264.60" y2="243.50" stroke="#777" stroke-width="1.6"/>
<line x1="263.80" y1="242.70" x2="358.70" y2="242.70" stroke="#000" stroke-width="1.5"/>
<rect x="270.2" y="153.3" width="50.0" height="15" fill="#fff"/>
<text x="271.20" y="165.30" font-size="14.5" text-anchor="start" font-weight="normal" fill="#000" >r = 0.81</text>
<line x1="71.60" y1="338.90" x2="71.60" y2="431.10" stroke="#d9d9d9" stroke-width="1"/>
<line x1="89.80" y1="338.90" x2="89.80" y2="431.10" stroke="#d9d9d9" stroke-width="1"/>
<line x1="108.00" y1="338.90" x2="108.00" y2="431.10" stroke="#d9d9d9" stroke-width="1"/>
<line x1="126.20" y1="338.90" x2="126.20" y2="431.10" stroke="#d9d9d9" stroke-width="1"/>
<line x1="144.40" y1="338.90" x2="144.40" y2="431.10" stroke="#d9d9d9" stroke-width="1"/>
<line x1="52.00" y1="338.90" x2="144.40" y2="338.90" stroke="#d9d9d9" stroke-width="1"/>
<line x1="52.00" y1="357.10" x2="144.40" y2="357.10" stroke="#d9d9d9" stroke-width="1"/>
<line x1="52.00" y1="375.30" x2="144.40" y2="375.30" stroke="#d9d9d9" stroke-width="1"/>
<line x1="52.00" y1="393.50" x2="144.40" y2="393.50" stroke="#d9d9d9" stroke-width="1"/>
<line x1="52.00" y1="411.70" x2="144.40" y2="411.70" stroke="#d9d9d9" stroke-width="1"/>
<g filter="url(#soft)"><path d="M128 341.5h1m-7 4h1m-4 2h1m-3 1h1m16 0h1m-29 1h1m22 0h2m-7 1h1m1 0h1m-3 1h1m3 0h1m5 0h1m-24 1h1m5 0h1m2 1h2m1 0h2m3 0h1m-13 1h1m1 0h3m1 0h2m-10 1h1m4 0h2m2 0h2m10 0h1m-23 1h1m1 0h2m1 0h1m2 0h1m1 0h1m-16 1h1m3 0h3m1 0h3m1 0h4m12 0h1m-54 1h1m16 0h1m8 0h1m1 0h1m4 0h3m9 0h1m-24 1h1m4 0h1m1 0h3m3 0h3m6 0h1m-20 1h1m3 0h2m2 0h1m1 0h1m1 0h1m-16 1h2m3 0h1m5 0h1m2 0h6m1 0h3m-39 1h1m16 0h1m2 0h2m3 0h4m5 0h1m1 0h1m1 0h1m-44 1h1m18 0h4m1 0h2m1 0h2m4 0h1m1 0h2m1 0h3m-72 1h1m45 0h1m1 0h1m4 0h1m1 0h1m4 0h1m3 0h3m-38 1h1m7 0h1m6 0h1m1 0h2m1 0h4m1 0h1m7 0h5m1 0h3m-25 1h1m1 0h2m2 0h2m2 0h5m2 0h1m1 0h3m-27 1h1m2 0h1m2 0h4m2 0h1m1 0h3m2 0h3m1 0h1m3 0h1m1 0h1m-21 1h1m1 0h1m1 0h1m2 0h2m1 0h2m3 0h1m1 0h2m-24 1h1m2 0h1m2 0h1m1 0h1m3 0h1m2 0h1m1 0h2m1 0h1m3 0h2m3 0h1m-36 1h1m1 0h1m4 0h3m2 0h1m1 0h3m4 0h3m3 0h1m6 0h1m-37 1h1m1 0h1m2 0h1m1 0h3m3 0h1m1 0h3m1 0h1m2 0h1m2 0h3m-54 1h1m18 0h1m8 0h1m7 0h2m3 0h6m1 0h1m1 0h2m-30 1h1m5 0h1m2 0h3m1 0h8m1 0h1m1 0h2m6 0h1m3 0h1m-41 1h1m4 0h1m1 0h1m3 0h4m1 0h2m1 0h1m4 0h2m1 0h1m3 0h3m1 0h1m2 0h1m10 0h1m-80 1h1m17 0h1m14 0h2m3 0h1m1 0h1m1 0h1m4 0h2m2 0h1m2 0h2m6 0h1m2 0h1m1 0h2m-37 1h2m2 0h2m1 0h1m6 0h1m2 0h2m1 0h5m1 0h6m1 0h1m-66 1h1m11 0h1m6 0h1m11 0h1m5 0h3m3 0h2m2 0h1m3 0h1m1 0h3m4 0h1m1 0h1m-59 1h1m21 0h1m1 0h1m2 0h4m5 0h3m1 0h3m1 0h6m1 0h2m1 0h1m4 0h1m-61 1h1m26 0h2m1 0h1m2 0h1m1 0h1m3 0h1m3 0h2m2 0h1m1 0h3m2 0h3m4 0h1m5 0h1m-71 1h1m22 0h1m2 0h2m3 0h1m2 0h2m1 0h1m2 0h1m1 0h1m1 0h1m1 0h1m1 0h10m1 0h1m-49 1h2m6 0h2m3 0h5m1 0h2m1 0h3m1 0h1m3 0h1m1 0h1m1 0h13m2 0h1m1 0h1m-51 1h1m6 0h1m1 0h1m6 0h1m1 0h3m9 0h1m1 0h14m2 0h1m-48 1h1m3 0h1m3 0h1m1 0h1m2 0h1m2 0h1m1 0h2m6 0h1m1 0h1m1 0h16m1 0h1m2 0h1m3 0h1m-68 1h1m16 0h1m3 0h1m1 0h2m1 0h1m2 0h2m1 0h3m1 0h1m1 0h13m1 0h2m1 0h1m2 0h1m-59 1h1m9 0h1m1 0h1m4 0h2m5 0h1m3 0h2m2 0h4m2 0h3m1 0h12m2 0h1m7 0h1m-52 1h2m1 0h3m5 0h3m1 0h1m1 0h1m1 0h5m1 0h14m1 0h2m-50 1h1m3 0h2m1 0h1m1 0h2m2 0h1m3 0h1m1 0h1m1 0h4m3 0h2m2 0h18m1 0h1m-57 1h1m4 0h1m6 0h1m2 0h1m1 0h2m2 0h2m2 0h2m1 0h1m2 0h1m1 0h20m-46 1h2m2 0h1m1 0h2m1 0h1m2 0h2m1 0h1m1 0h2m1 0h1m2 0h1m2 0h2m1 0h17m3 0h1m-57 1h2m2 0h2m1 0h3m2 0h3m2 0h2m12 0h1m1 0h17m1 0h1m7 0h2m-60 1h1m2 0h2m1 0h2m1 0h1m1 0h5m1 0h2m1 0h2m1 0h2m1 0h1m1 0h1m1 0h19m1 0h3m26 0h1m-81 1h1m1 0h6m1 0h1m2 0h1m2 0h5m2 0h1m1 0h3m1 0h22m1 0h1m-52 1h2m1 0h2m1 0h2m4 0h2m1 0h2m1 0h1m4 0h3m1 0h22m1 0h1m-50 1h1m5 0h1m1 0h1m3 0h1m3 0h1m2 0h31m-49 1h1m4 0h2m1 0h3m2 0h4m1 0h1m1 0h1m1 0h25m-48 1h2m2 0h1m2 0h1m3 0h1m4 0h2m1 0h30m3 0h1m-54 1h1m2 0h1m2 0h1m2 0h1m1 0h3m1 0h1m1 0h27m1 0h2m2 0h2m-51 1h2m4 0h2m1 0h1m1 0h3m1 0h3m1 0h29m1 0h1m14 0h1m-64 1h1m1 0h1m2 0h4m2 0h3m1 0h30m-46 1h2m3 0h2m1 0h3m1 0h33m-45 1h1m3 0h3m1 0h37m4 0h1m-49 1h5m1 0h35m2 0h1m-45 1h1m1 0h1m1 0h38m1 0h1m-42 1h41m1 0h1m4 0h1m-50 1h1m1 0h1m1 0h38m-41 1h1m1 0h38m-41 1h1m1 0h37m4 0h1m-44 1h1m2 0h38m24 0h1m-66 1h1m1 0h1m1 0h36m-36 1h9m1 0h27" stroke="#000" stroke-width="1" fill="none"/>
<rect x="52.0" y="411.6" width="37.8" height="1.4" fill="#000" fill-opacity="1.0"/>
<rect x="52.0" y="414.4" width="35.6" height="1.4" fill="#000" fill-opacity="1.0"/>
<rect x="52.0" y="418.8" width="34.8" height="1.4" fill="#000" fill-opacity="1.0"/>
<rect x="52.0" y="428.8" width="31.4" height="1.4" fill="#000" fill-opacity="1.0"/>
<rect x="134.0" y="343.2" width="1" height="1"/>
<rect x="135.2" y="344.2" width="1" height="1"/>
</g>
<line x1="49.00" y1="338.90" x2="52.00" y2="338.90" stroke="#888" stroke-width="0.8"/>
<line x1="49.00" y1="357.10" x2="52.00" y2="357.10" stroke="#888" stroke-width="0.8"/>
<line x1="49.00" y1="375.30" x2="52.00" y2="375.30" stroke="#888" stroke-width="0.8"/>
<line x1="49.00" y1="393.50" x2="52.00" y2="393.50" stroke="#888" stroke-width="0.8"/>
<line x1="49.00" y1="411.70" x2="52.00" y2="411.70" stroke="#888" stroke-width="0.8"/>
<line x1="49.00" y1="429.90" x2="52.00" y2="429.90" stroke="#888" stroke-width="0.8"/>
<line x1="71.60" y1="431.10" x2="71.60" y2="433.60" stroke="#888" stroke-width="0.8"/>
<line x1="89.80" y1="431.10" x2="89.80" y2="433.60" stroke="#888" stroke-width="0.8"/>
<line x1="108.00" y1="431.10" x2="108.00" y2="433.60" stroke="#888" stroke-width="0.8"/>
<line x1="126.20" y1="431.10" x2="126.20" y2="433.60" stroke="#888" stroke-width="0.8"/>
<line x1="144.40" y1="431.10" x2="144.40" y2="433.60" stroke="#888" stroke-width="0.8"/>
<line x1="52.00" y1="338.90" x2="52.00" y2="431.90" stroke="#000" stroke-width="1.6"/>
<line x1="51.20" y1="431.10" x2="144.40" y2="431.10" stroke="#000" stroke-width="1.5"/>
<rect x="53.5" y="342.6" width="50.0" height="15" fill="#fff"/>
<text x="54.50" y="354.60" font-size="14.5" text-anchor="start" font-weight="normal" fill="#000" >r = 0.83</text>
<line x1="223.30" y1="339.00" x2="223.30" y2="431.10" stroke="#d9d9d9" stroke-width="1"/>
<line x1="241.80" y1="339.00" x2="241.80" y2="431.10" stroke="#d9d9d9" stroke-width="1"/>
<line x1="260.30" y1="339.00" x2="260.30" y2="431.10" stroke="#d9d9d9" stroke-width="1"/>
<line x1="278.80" y1="339.00" x2="278.80" y2="431.10" stroke="#d9d9d9" stroke-width="1"/>
<line x1="297.30" y1="339.00" x2="297.30" y2="431.10" stroke="#d9d9d9" stroke-width="1"/>
<line x1="204.30" y1="339.00" x2="297.30" y2="339.00" stroke="#d9d9d9" stroke-width="1"/>
<line x1="204.30" y1="357.20" x2="297.30" y2="357.20" stroke="#d9d9d9" stroke-width="1"/>
<line x1="204.30" y1="375.40" x2="297.30" y2="375.40" stroke="#d9d9d9" stroke-width="1"/>
<line x1="204.30" y1="393.60" x2="297.30" y2="393.60" stroke="#d9d9d9" stroke-width="1"/>
<line x1="204.30" y1="411.80" x2="297.30" y2="411.80" stroke="#d9d9d9" stroke-width="1"/>
<g filter="url(#soft)"><path d="M285 347.5h1m-2 4h1m-5 1h1m9 0h1m-16 1h1m4 0h2m2 0h1m-6 1h3m-4 1h5m-9 1h1m1 0h6m-11 1h1m4 0h6m-8 1h7m-19 1h1m9 0h9m2 0h1m-12 1h8m-10 1h7m2 0h1m2 0h1m-20 1h1m2 0h1m1 0h1m2 0h5m-10 1h1m2 0h6m-9 1h1m2 0h5m-8 1h7m1 0h1m1 0h2m-14 1h8m1 0h1m1 0h1m14 0h1m-36 1h1m4 0h1m1 0h6m1 0h4m-13 1h11m-10 1h8m2 0h1m-13 1h1m1 0h7m-14 1h1m2 0h1m1 0h7m1 0h1m12 0h1m-26 1h11m-10 1h8m1 0h1m-15 1h4m1 0h8m3 0h1m-16 1h10m3 0h1m-23 1h1m1 0h1m3 0h13m-12 1h11m-15 1h1m1 0h13m-19 1h1m2 0h17m-30 1h1m10 0h1m1 0h16m-17 1h14m-22 1h2m2 0h18m-19 1h19m-20 1h19m-29 1h1m6 0h21m-22 1h21m-33 1h1m9 0h23m-26 1h25m-29 1h1m1 0h25m5 0h1m-35 1h1m1 0h1m1 0h25m-44 1h1m13 0h1m1 0h28m-31 1h30m-34 1h1m2 0h30m-34 1h1m1 0h32m1 0h1m-44 1h1m7 0h33m1 0h1m-46 1h1m7 0h35m-43 1h1m6 0h35m1 0h1m12 0h1m-53 1h3m1 0h34m-41 1h40m2 0h1m-42 1h39m-41 1h41m7 0h1m-49 1h5m1 0h34m-40 1h39m1 0h1m-41 1h38m3 0h1m-42 1h39m-39 1h38m-38 1h38m-38 1h37" stroke="#000" stroke-width="1" fill="none"/>
<rect x="204.3" y="410.1" width="35.7" height="1.4" fill="#000" fill-opacity="1.0"/>
<rect x="204.3" y="413.2" width="34.6" height="1.4" fill="#000" fill-opacity="1.0"/>
<rect x="204.3" y="418.7" width="31.5" height="1.4" fill="#000" fill-opacity="1.0"/>
<rect x="204.3" y="429.3" width="28.4" height="1.4" fill="#000" fill-opacity="1.0"/>
<rect x="287.0" y="348.3" width="1" height="1"/>
<rect x="288.0" y="347.5" width="1" height="1"/>
</g>
<line x1="201.30" y1="339.00" x2="204.30" y2="339.00" stroke="#888" stroke-width="0.8"/>
<line x1="201.30" y1="357.20" x2="204.30" y2="357.20" stroke="#888" stroke-width="0.8"/>
<line x1="201.30" y1="375.40" x2="204.30" y2="375.40" stroke="#888" stroke-width="0.8"/>
<line x1="201.30" y1="393.60" x2="204.30" y2="393.60" stroke="#888" stroke-width="0.8"/>
<line x1="201.30" y1="411.80" x2="204.30" y2="411.80" stroke="#888" stroke-width="0.8"/>
<line x1="201.30" y1="430.00" x2="204.30" y2="430.00" stroke="#888" stroke-width="0.8"/>
<line x1="223.30" y1="431.10" x2="223.30" y2="433.60" stroke="#888" stroke-width="0.8"/>
<line x1="241.80" y1="431.10" x2="241.80" y2="433.60" stroke="#888" stroke-width="0.8"/>
<line x1="260.30" y1="431.10" x2="260.30" y2="433.60" stroke="#888" stroke-width="0.8"/>
<line x1="278.80" y1="431.10" x2="278.80" y2="433.60" stroke="#888" stroke-width="0.8"/>
<line x1="297.30" y1="431.10" x2="297.30" y2="433.60" stroke="#888" stroke-width="0.8"/>
<line x1="204.30" y1="339.00" x2="204.30" y2="431.90" stroke="#777" stroke-width="1.6"/>
<line x1="203.50" y1="431.10" x2="297.30" y2="431.10" stroke="#000" stroke-width="1.5"/>
<rect x="205.5" y="342.8" width="50.0" height="15" fill="#fff"/>
<text x="206.50" y="354.80" font-size="14.5" text-anchor="start" font-weight="normal" fill="#000" >r = 0.99</text>
<line x1="378.56" y1="338.30" x2="378.56" y2="431.00" stroke="#d9d9d9" stroke-width="1"/>
<line x1="397.02" y1="338.30" x2="397.02" y2="431.00" stroke="#d9d9d9" stroke-width="1"/>
<line x1="415.48" y1="338.30" x2="415.48" y2="431.00" stroke="#d9d9d9" stroke-width="1"/>
<line x1="433.94" y1="338.30" x2="433.94" y2="431.00" stroke="#d9d9d9" stroke-width="1"/>
<line x1="452.40" y1="338.30" x2="452.40" y2="431.00" stroke="#d9d9d9" stroke-width="1"/>
<line x1="359.10" y1="338.30" x2="452.40" y2="338.30" stroke="#d9d9d9" stroke-width="1"/>
<line x1="359.10" y1="356.80" x2="452.40" y2="356.80" stroke="#d9d9d9" stroke-width="1"/>
<line x1="359.10" y1="375.30" x2="452.40" y2="375.30" stroke="#d9d9d9" stroke-width="1"/>
<line x1="359.10" y1="393.80" x2="452.40" y2="393.80" stroke="#d9d9d9" stroke-width="1"/>
<line x1="359.10" y1="412.30" x2="452.40" y2="412.30" stroke="#d9d9d9" stroke-width="1"/>
<g filter="url(#soft)"><path d="M445 339.5h1m-9 2h1m1 3h1m1 1h1m8 0h1m-49 1h1m19 0h1m-56 1h1m66 2h1m-39 1h1m39 0h1m-1 1h2m1 0h1m-12 1h1m8 0h1m7 0h1m-36 1h1m25 0h2m1 0h2m-20 1h1m11 0h1m1 0h3m1 0h1m-22 1h1m6 0h1m3 0h1m3 0h2m3 0h1m-17 1h1m4 0h1m2 0h5m3 0h2m-14 1h1m3 0h5m-27 1h1m12 0h1m6 0h1m1 0h1m17 0h1m-50 1h1m3 0h1m25 0h2m2 0h1m4 0h1m3 0h1m-42 1h1m1 0h1m6 0h2m3 0h1m7 0h1m1 0h2m1 0h1m3 0h1m-19 1h1m2 0h2m8 0h2m2 0h1m6 0h1m-49 1h1m15 0h1m5 0h1m2 0h1m1 0h1m1 0h2m2 0h1m1 0h6m3 0h1m7 0h1m-46 1h1m9 0h1m1 0h1m1 0h1m11 0h1m2 0h1m1 0h1m1 0h2m-36 1h1m9 0h2m10 0h1m1 0h1m4 0h1m9 0h1m3 0h1m-27 1h1m4 0h1m2 0h1m1 0h1m1 0h1m1 0h1m7 0h1m5 0h1m-80 1h1m29 0h2m1 0h1m2 0h1m6 0h1m5 0h1m1 0h2m2 0h1m2 0h4m2 0h1m-22 1h3m5 0h2m3 0h1m4 0h2m2 0h1m1 0h1m11 0h1m-41 1h3m5 0h1m3 0h5m5 0h1m11 0h1m-58 1h1m1 0h1m8 0h1m9 0h1m4 0h2m6 0h1m2 0h1m1 0h3m1 0h4m6 0h1m-41 1h1m1 0h1m7 0h1m3 0h1m1 0h1m1 0h2m2 0h3m1 0h1m1 0h2m1 0h1m7 0h1m-34 1h1m1 0h1m1 0h1m2 0h2m2 0h2m1 0h3m1 0h9m1 0h2m1 0h2m-42 1h1m11 0h3m2 0h4m3 0h3m1 0h1m3 0h2m3 0h1m2 0h1m-59 1h1m8 0h1m9 0h1m3 0h1m2 0h1m3 0h1m1 0h1m2 0h3m1 0h3m3 0h3m4 0h1m-61 1h1m25 0h1m7 0h2m1 0h3m2 0h1m1 0h3m1 0h7m1 0h2m2 0h1m-42 1h1m7 0h1m3 0h2m3 0h2m2 0h1m4 0h2m1 0h3m2 0h2m2 0h2m2 0h1m-39 1h1m4 0h2m2 0h2m1 0h4m1 0h2m1 0h1m2 0h9m2 0h2m6 0h1m-42 1h2m2 0h1m2 0h3m1 0h1m3 0h2m1 0h4m1 0h5m2 0h1m4 0h1m7 0h1m-49 1h1m6 0h3m1 0h2m3 0h4m1 0h1m1 0h9m1 0h2m3 0h1m2 0h2m-56 1h1m10 0h1m8 0h2m2 0h8m1 0h8m1 0h5m2 0h3m1 0h2m-48 1h1m6 0h1m2 0h1m1 0h2m2 0h1m1 0h1m1 0h4m1 0h1m2 0h1m3 0h4m1 0h1m5 0h3m4 0h1m-56 1h1m10 0h1m1 0h1m1 0h3m2 0h3m1 0h1m1 0h1m1 0h1m1 0h13m1 0h2m1 0h2m5 0h1m3 0h1m2 0h1m-62 1h1m7 0h1m4 0h1m4 0h3m1 0h14m6 0h1m3 0h2m1 0h1m9 0h1m-58 1h1m10 0h2m1 0h1m3 0h9m1 0h1m1 0h4m2 0h3m1 0h3m2 0h3m7 0h1m-52 1h1m3 0h1m2 0h3m1 0h1m1 0h1m2 0h2m2 0h2m1 0h15m4 0h1m1 0h1m-51 1h1m7 0h1m2 0h3m2 0h4m2 0h7m1 0h3m1 0h9m2 0h2m-47 1h1m7 0h1m4 0h1m1 0h3m1 0h5m2 0h2m1 0h5m1 0h4m2 0h1m1 0h3m4 0h2m3 0h1m-66 1h2m2 0h1m10 0h2m1 0h2m1 0h3m1 0h1m1 0h22m1 0h1m1 0h1m1 0h2m1 0h1m-58 1h2m18 0h1m1 0h3m4 0h3m2 0h3m1 0h1m1 0h1m1 0h4m1 0h1m2 0h2m1 0h2m12 0h2m-69 1h2m1 0h2m14 0h2m1 0h10m1 0h9m1 0h3m3 0h1m1 0h1m10 0h1m-63 1h2m6 0h2m8 0h1m2 0h1m1 0h5m1 0h16m1 0h1m3 0h1m1 0h1m3 0h1m-57 1h2m4 0h1m4 0h1m1 0h3m1 0h3m1 0h1m1 0h5m1 0h3m1 0h6m1 0h3m1 0h2m1 0h1m1 0h1m2 0h2m7 0h1m7 0h1m-70 1h1m9 0h1m3 0h1m5 0h4m2 0h7m1 0h8m1 0h1m1 0h1m1 0h2m3 0h1m3 0h1m-57 1h2m6 0h1m4 0h1m4 0h1m1 0h24m1 0h1m1 0h2m1 0h2m3 0h1m2 0h1m-59 1h4m3 0h1m5 0h2m1 0h5m1 0h6m1 0h4m1 0h9m1 0h1m1 0h2m8 0h1m2 0h1m26 0h1m-87 1h2m13 0h2m2 0h22m1 0h1m1 0h2m2 0h1m2 0h1m1 0h1m-54 1h2m4 0h1m5 0h1m2 0h1m1 0h1m1 0h1m1 0h1m1 0h22m1 0h2m4 0h1m1 0h1m-54 1h2m4 0h1m2 0h1m1 0h1m1 0h6m1 0h7m1 0h9m1 0h1m1 0h3m6 0h1m1 0h1m3 0h1m-57 1h2m6 0h1m2 0h2m1 0h2m1 0h25m2 0h1m9 0h1m1 0h1m8 0h1m-65 1h2m2 0h1m2 0h1m2 0h3m1 0h3m1 0h21m2 0h1m1 0h1m1 0h1m34 0h1m-81 1h1m3 0h3m1 0h4m1 0h4m1 0h20m2 0h2m2 0h1m1 0h1m-48 1h1m1 0h2m2 0h1m1 0h1m1 0h15m1 0h3m1 0h7m1 0h1m1 0h2m1 0h1m1 0h1m2 0h1m-49 1h2m2 0h3m1 0h8m2 0h9m2 0h3m1 0h5m2 0h1m-41 1h2m1 0h2m1 0h3m2 0h14m1 0h1m1 0h3m1 0h4m1 0h1m2 0h1m3 0h1m-45 1h3m2 0h3m1 0h1m2 0h17m1 0h2m2 0h1m2 0h1m7 0h1m6 0h1m2 0h1m9 0h1m17 0h1m-84 1h3m1 0h3m2 0h1m2 0h10m1 0h2m2 0h3m1 0h5m-36 1h1m1 0h2m1 0h1m1 0h6m1 0h7m1 0h5m1 0h3m2 0h2m1 0h2m6 0h1m-44 1h1m1 0h1m2 0h1m2 0h5m1 0h3m1 0h2m1 0h1m1 0h2m2 0h2m3 0h1m4 0h2m4 0h1m6 0h1m-52 1h2m3 0h8m1 0h1m1 0h1m1 0h3m1 0h4m2 0h1m3 0h1m1 0h1m1 0h3m1 0h1m5 0h1m-47 1h4m1 0h1m1 0h1m3 0h14m1 0h7m1 0h1m5 0h1m33 0h1m-75 1h2m1 0h8m1 0h1m1 0h4m1 0h7m4 0h1m3 0h1m-35 1h2m1 0h4m1 0h2m1 0h6m1 0h3m1 0h2m1 0h2m5 0h1m3 0h2m1 0h1m5 0h1m-46 1h4m1 0h7m3 0h2m1 0h1m1 0h2m3 0h1m7 0h1m1 0h1m4 0h1m-41 1h3m1 0h1m2 0h1m1 0h5m1 0h2m4 0h2m15 0h1m14 0h1m-54 1h8m1 0h1m2 0h2m1 0h1m1 0h1m1 0h3m12 0h1m2 0h1m2 0h1m2 0h1m-44 1h4m1 0h2m1 0h9m2 0h1m1 0h3m5 0h1m50 0h1m-81 1h2m6 0h1m1 0h1m1 0h3m1 0h2m1 0h2m2 0h1m2 0h2m-28 1h9m2 0h2m1 0h2m4 0h1m1 0h1m1 0h1m16 0h1m9 0h1m-52 1h5m1 0h4m1 0h1m4 0h3m1 0h2m6 0h1m4 0h1m6 0h1m9 0h1m-51 1h4m1 0h1m3 0h1m2 0h1m1 0h1m3 0h1m9 0h1m5 0h1m1 0h1m9 0h1m6 0h1m-54 1h2m1 0h1m1 0h1m2 0h1m3 0h3m1 0h5m17 0h1m19 0h1m-59 1h3m3 0h1m3 0h1m2 0h2m8 0h1m1 0h2m-27 1h5m3 0h2m3 0h2m1 0h1m8 0h1m50 0h1m-76 1h1m1 0h1m1 0h1m3 0h1m1 0h4m3 0h1m6 0h1m11 0h1m-37 1h1m1 0h2m2 0h1m2 0h1m2 0h1m2 0h1m2 0h1m8 0h1m-29 1h3m6 0h2m4 0h1m6 0h1m4 0h1m-28 1h1m2 0h1m1 0h2m3 0h2m-12 1h2m3 0h1m4 0h1m66 0h1m-78 1h57m1 0h6m-64 1h48m1 0h11m1 0h3m-64 1h2m5 0h1" stroke="#000" stroke-width="1" fill="none"/>
<rect x="359.1" y="418.9" width="15.3" height="1.4" fill="#000" fill-opacity="1.0"/>
<rect x="359.1" y="428.5" width="64.5" height="1.4" fill="#000" fill-opacity="1.0"/>
<rect x="442.1" y="347.3" width="1" height="1"/>
</g>
<line x1="356.10" y1="338.30" x2="359.10" y2="338.30" stroke="#888" stroke-width="0.8"/>
<line x1="356.10" y1="356.80" x2="359.10" y2="356.80" stroke="#888" stroke-width="0.8"/>
<line x1="356.10" y1="375.30" x2="359.10" y2="375.30" stroke="#888" stroke-width="0.8"/>
<line x1="356.10" y1="393.80" x2="359.10" y2="393.80" stroke="#888" stroke-width="0.8"/>
<line x1="356.10" y1="412.30" x2="359.10" y2="412.30" stroke="#888" stroke-width="0.8"/>
<line x1="356.10" y1="430.80" x2="359.10" y2="430.80" stroke="#888" stroke-width="0.8"/>
<line x1="378.56" y1="431.00" x2="378.56" y2="433.50" stroke="#888" stroke-width="0.8"/>
<line x1="397.02" y1="431.00" x2="397.02" y2="433.50" stroke="#888" stroke-width="0.8"/>
<line x1="415.48" y1="431.00" x2="415.48" y2="433.50" stroke="#888" stroke-width="0.8"/>
<line x1="433.94" y1="431.00" x2="433.94" y2="433.50" stroke="#888" stroke-width="0.8"/>
<line x1="452.40" y1="431.00" x2="452.40" y2="433.50" stroke="#888" stroke-width="0.8"/>
<line x1="359.10" y1="338.30" x2="359.10" y2="431.80" stroke="#000" stroke-width="1.6"/>
<line x1="358.30" y1="431.00" x2="452.40" y2="431.00" stroke="#000" stroke-width="1.5"/>
<rect x="365.0" y="335.3" width="50.0" height="15" fill="#fff"/>
<text x="366.00" y="347.30" font-size="14.5" text-anchor="start" font-weight="normal" fill="#000" >r = 0.76</text>
<line x1="535.90" y1="339.30" x2="535.90" y2="431.00" stroke="#d9d9d9" stroke-width="1"/>
<line x1="554.10" y1="339.30" x2="554.10" y2="431.00" stroke="#d9d9d9" stroke-width="1"/>
<line x1="572.30" y1="339.30" x2="572.30" y2="431.00" stroke="#d9d9d9" stroke-width="1"/>
<line x1="590.50" y1="339.30" x2="590.50" y2="431.00" stroke="#d9d9d9" stroke-width="1"/>
<line x1="608.70" y1="339.30" x2="608.70" y2="431.00" stroke="#d9d9d9" stroke-width="1"/>
<line x1="516.30" y1="339.30" x2="608.70" y2="339.30" stroke="#d9d9d9" stroke-width="1"/>
<line x1="516.30" y1="357.50" x2="608.70" y2="357.50" stroke="#d9d9d9" stroke-width="1"/>
<line x1="516.30" y1="375.70" x2="608.70" y2="375.70" stroke="#d9d9d9" stroke-width="1"/>
<line x1="516.30" y1="393.90" x2="608.70" y2="393.90" stroke="#d9d9d9" stroke-width="1"/>
<line x1="516.30" y1="412.10" x2="608.70" y2="412.10" stroke="#d9d9d9" stroke-width="1"/>
<g filter="url(#soft)"><path d="M589 352.5h1m4 0h1m-6 2h1m1 0h1m2 0h1m-5 1h1m1 0h1m-5 1h1m2 0h1m1 0h2m-7 1h1m1 0h1m1 0h2m-12 1h1m2 0h4m4 0h1m-8 1h3m1 0h3m-34 1h1m22 0h3m1 0h3m-8 1h1m1 0h4m1 0h1m1 0h1m2 0h1m-16 1h1m1 0h7m2 0h1m2 0h1m-14 1h1m1 0h4m1 0h1m1 0h1m-14 1h1m2 0h6m1 0h5m-19 1h1m3 0h1m1 0h2m1 0h3m4 0h1m-19 1h2m4 0h1m1 0h4m2 0h1m-10 1h1m1 0h4m3 0h2m-22 1h1m7 0h6m1 0h3m1 0h1m-18 1h2m2 0h3m1 0h5m2 0h1m-23 1h1m9 0h12m-14 1h1m1 0h12m-21 1h1m7 0h14m-16 1h10m1 0h1m-15 1h2m1 0h10m-16 1h1m1 0h1m2 0h11m3 0h1m-31 1h1m12 0h14m-15 1h14m-24 1h1m8 0h14m4 0h1m-34 1h1m9 0h1m3 0h14m-22 1h1m5 0h16m-22 1h1m1 0h2m1 0h15m1 0h2m-21 1h17m1 0h1m3 0h1m-29 1h1m4 0h17m1 0h2m4 0h1m-34 1h1m5 0h20m1 0h1m4 0h1m-30 1h1m1 0h5m1 0h14m1 0h1m-32 1h1m8 0h21m-36 1h1m1 0h1m9 0h1m1 0h23m1 0h1m-43 1h1m8 0h1m4 0h2m1 0h22m-26 1h25m3 0h1m-41 1h1m9 0h26m-30 1h2m1 0h27m5 0h1m5 0h1m-44 1h1m2 0h28m1 0h1m-31 1h30m-33 1h31m-40 1h1m1 0h1m1 0h1m3 0h32m-34 1h33m3 0h1m5 0h1m-53 1h1m5 0h1m2 0h34m1 0h1m1 0h1m-47 1h1m5 0h36m2 0h1m4 0h1m-47 1h40m1 0h1m-46 1h1m2 0h39m1 0h2m-45 1h41m-41 1h42m5 0h1m-48 1h41m-41 1h40m-40 1h39m-39 1h40m-40 1h39m-39 1h38m-37 1h10m1 0h13m1 0h10" stroke="#000" stroke-width="1" fill="none"/>
<rect x="516.3" y="409.1" width="33.6" height="1.4" fill="#000" fill-opacity="1.0"/>
<rect x="516.3" y="413.2" width="32.5" height="1.4" fill="#000" fill-opacity="1.0"/>
<rect x="516.3" y="418.3" width="31.5" height="1.4" fill="#000" fill-opacity="1.0"/>
<rect x="516.3" y="429.2" width="26.4" height="1.4" fill="#000" fill-opacity="1.0"/>
<rect x="603.1" y="344.2" width="1" height="1"/>
<rect x="596.0" y="350.3" width="1" height="1"/>
<rect x="598.0" y="351.4" width="1" height="1"/>
</g>
<line x1="513.30" y1="339.30" x2="516.30" y2="339.30" stroke="#888" stroke-width="0.8"/>
<line x1="513.30" y1="357.50" x2="516.30" y2="357.50" stroke="#888" stroke-width="0.8"/>
<line x1="513.30" y1="375.70" x2="516.30" y2="375.70" stroke="#888" stroke-width="0.8"/>
<line x1="513.30" y1="393.90" x2="516.30" y2="393.90" stroke="#888" stroke-width="0.8"/>
<line x1="513.30" y1="412.10" x2="516.30" y2="412.10" stroke="#888" stroke-width="0.8"/>
<line x1="513.30" y1="430.30" x2="516.30" y2="430.30" stroke="#888" stroke-width="0.8"/>
<line x1="535.90" y1="431.00" x2="535.90" y2="433.50" stroke="#888" stroke-width="0.8"/>
<line x1="554.10" y1="431.00" x2="554.10" y2="433.50" stroke="#888" stroke-width="0.8"/>
<line x1="572.30" y1="431.00" x2="572.30" y2="433.50" stroke="#888" stroke-width="0.8"/>
<line x1="590.50" y1="431.00" x2="590.50" y2="433.50" stroke="#888" stroke-width="0.8"/>
<line x1="608.70" y1="431.00" x2="608.70" y2="433.50" stroke="#888" stroke-width="0.8"/>
<line x1="516.30" y1="339.30" x2="516.30" y2="431.80" stroke="#777" stroke-width="1.6"/>
<line x1="515.50" y1="431.00" x2="608.70" y2="431.00" stroke="#000" stroke-width="1.5"/>
<text transform="translate(28.10,47.50) scale(0.86,1)" font-size="14.8">10</text>
<text transform="translate(41.90,41.90) scale(0.8,1)" font-size="9.6">-1</text>
<text transform="translate(28.10,65.70) scale(0.86,1)" font-size="14.8">10</text>
<text transform="translate(41.90,60.10) scale(0.8,1)" font-size="9.6">-2</text>
<text transform="translate(28.10,83.90) scale(0.86,1)" font-size="14.8">10</text>
<text transform="translate(41.90,78.30) scale(0.8,1)" font-size="9.6">-3</text>
<text transform="translate(28.10,102.10) scale(0.86,1)" font-size="14.8">10</text>
<text transform="translate(41.90,96.50) scale(0.8,1)" font-size="9.6">-4</text>
<text transform="translate(28.10,120.30) scale(0.86,1)" font-size="14.8">10</text>
<text transform="translate(41.90,114.70) scale(0.8,1)" font-size="9.6">-5</text>
<text transform="translate(28.10,138.50) scale(0.86,1)" font-size="14.8">10</text>
<text transform="translate(41.90,132.90) scale(0.8,1)" font-size="9.6">-6</text>
<text transform="translate(28.30,155.20) scale(0.86,1)" font-size="14.8">10</text>
<text transform="translate(42.10,149.60) scale(0.8,1)" font-size="9.6">-1</text>
<text transform="translate(28.30,173.40) scale(0.86,1)" font-size="14.8">10</text>
<text transform="translate(42.10,167.80) scale(0.8,1)" font-size="9.6">-2</text>
<text transform="translate(28.30,191.60) scale(0.86,1)" font-size="14.8">10</text>
<text transform="translate(42.10,186.00) scale(0.8,1)" font-size="9.6">-3</text>
<text transform="translate(28.30,209.80) scale(0.86,1)" font-size="14.8">10</text>
<text transform="translate(42.10,204.20) scale(0.8,1)" font-size="9.6">-4</text>
<text transform="translate(28.30,228.00) scale(0.86,1)" font-size="14.8">10</text>
<text transform="translate(42.10,222.40) scale(0.8,1)" font-size="9.6">-5</text>
<text transform="translate(28.30,246.20) scale(0.86,1)" font-size="14.8">10</text>
<text transform="translate(42.10,240.60) scale(0.8,1)" font-size="9.6">-6</text>
<text transform="translate(28.10,344.00) scale(0.86,1)" font-size="14.8">10</text>
<text transform="translate(41.90,338.40) scale(0.8,1)" font-size="9.6">-1</text>
<text transform="translate(28.10,362.20) scale(0.86,1)" font-size="14.8">10</text>
<text transform="translate(41.90,356.60) scale(0.8,1)" font-size="9.6">-2</text>
<text transform="translate(28.10,380.40) scale(0.86,1)" font-size="14.8">10</text>
<text transform="translate(41.90,374.80) scale(0.8,1)" font-size="9.6">-3</text>
<text transform="translate(28.10,398.60) scale(0.86,1)" font-size="14.8">10</text>
<text transform="translate(41.90,393.00) scale(0.8,1)" font-size="9.6">-4</text>
<text transform="translate(28.10,416.80) scale(0.86,1)" font-size="14.8">10</text>
<text transform="translate(41.90,411.20) scale(0.8,1)" font-size="9.6">-5</text>
<text transform="translate(28.10,435.00) scale(0.86,1)" font-size="14.8">10</text>
<text transform="translate(41.90,429.40) scale(0.8,1)" font-size="9.6">-6</text>
<text transform="translate(179.50,344.10) scale(0.86,1)" font-size="14.8">10</text>
<text transform="translate(193.30,338.50) scale(0.8,1)" font-size="9.6">-1</text>
<text transform="translate(179.50,362.30) scale(0.86,1)" font-size="14.8">10</text>
<text transform="translate(193.30,356.70) scale(0.8,1)" font-size="9.6">-2</text>
<text transform="translate(179.50,380.50) scale(0.86,1)" font-size="14.8">10</text>
<text transform="translate(193.30,374.90) scale(0.8,1)" font-size="9.6">-3</text>
<text transform="translate(179.50,398.70) scale(0.86,1)" font-size="14.8">10</text>
<text transform="translate(193.30,393.10) scale(0.8,1)" font-size="9.6">-4</text>
<text transform="translate(179.50,416.90) scale(0.86,1)" font-size="14.8">10</text>
<text transform="translate(193.30,411.30) scale(0.8,1)" font-size="9.6">-5</text>
<text transform="translate(179.50,435.10) scale(0.86,1)" font-size="14.8">10</text>
<text transform="translate(193.30,429.50) scale(0.8,1)" font-size="9.6">-6</text>
<text transform="translate(335.40,343.40) scale(0.86,1)" font-size="14.8">10</text>
<text transform="translate(349.20,337.80) scale(0.8,1)" font-size="9.6">-1</text>
<text transform="translate(335.40,361.90) scale(0.86,1)" font-size="14.8">10</text>
<text transform="translate(349.20,356.30) scale(0.8,1)" font-size="9.6">-2</text>
<text transform="translate(335.40,380.40) scale(0.86,1)" font-size="14.8">10</text>
<text transform="translate(349.20,374.80) scale(0.8,1)" font-size="9.6">-3</text>
<text transform="translate(335.40,398.90) scale(0.86,1)" font-size="14.8">10</text>
<text transform="translate(349.20,393.30) scale(0.8,1)" font-size="9.6">-4</text>
<text transform="translate(335.40,417.40) scale(0.86,1)" font-size="14.8">10</text>
<text transform="translate(349.20,411.80) scale(0.8,1)" font-size="9.6">-5</text>
<text transform="translate(335.40,435.90) scale(0.86,1)" font-size="14.8">10</text>
<text transform="translate(349.20,430.30) scale(0.8,1)" font-size="9.6">-6</text>
<text transform="translate(490.30,344.40) scale(0.86,1)" font-size="14.8">10</text>
<text transform="translate(504.10,338.80) scale(0.8,1)" font-size="9.6">-1</text>
<text transform="translate(490.30,362.60) scale(0.86,1)" font-size="14.8">10</text>
<text transform="translate(504.10,357.00) scale(0.8,1)" font-size="9.6">-2</text>
<text transform="translate(490.30,380.80) scale(0.86,1)" font-size="14.8">10</text>
<text transform="translate(504.10,375.20) scale(0.8,1)" font-size="9.6">-3</text>
<text transform="translate(490.30,399.00) scale(0.86,1)" font-size="14.8">10</text>
<text transform="translate(504.10,393.40) scale(0.8,1)" font-size="9.6">-4</text>
<text transform="translate(490.30,417.20) scale(0.86,1)" font-size="14.8">10</text>
<text transform="translate(504.10,411.60) scale(0.8,1)" font-size="9.6">-5</text>
<text transform="translate(490.30,435.40) scale(0.86,1)" font-size="14.8">10</text>
<text transform="translate(504.10,429.80) scale(0.8,1)" font-size="9.6">-6</text>
<text transform="translate(66.02,258.10) scale(0.86,1)" font-size="14.8">10</text>
<text transform="translate(79.82,252.50) scale(0.8,1)" font-size="9.6">-5</text>
<text transform="translate(102.66,258.10) scale(0.86,1)" font-size="14.8">10</text>
<text transform="translate(116.46,252.50) scale(0.8,1)" font-size="9.6">-3</text>
<text transform="translate(135.60,258.10) scale(0.86,1)" font-size="14.8">10</text>
<text transform="translate(149.40,252.50) scale(0.8,1)" font-size="9.6">-1</text>
<text transform="translate(172.28,258.80) scale(0.86,1)" font-size="14.8">10</text>
<text transform="translate(186.08,253.20) scale(0.8,1)" font-size="9.6">-5</text>
<text transform="translate(208.94,258.80) scale(0.86,1)" font-size="14.8">10</text>
<text transform="translate(222.74,253.20) scale(0.8,1)" font-size="9.6">-3</text>
<text transform="translate(241.50,258.80) scale(0.86,1)" font-size="14.8">10</text>
<text transform="translate(255.30,253.20) scale(0.8,1)" font-size="9.6">-1</text>
<text transform="translate(274.40,258.40) scale(0.86,1)" font-size="14.8">10</text>
<text transform="translate(288.20,252.80) scale(0.8,1)" font-size="9.6">-5</text>
<text transform="translate(311.00,258.40) scale(0.86,1)" font-size="14.8">10</text>
<text transform="translate(324.80,252.80) scale(0.8,1)" font-size="9.6">-3</text>
<text transform="translate(342.20,258.40) scale(0.86,1)" font-size="14.8">10</text>
<text transform="translate(356.00,252.80) scale(0.8,1)" font-size="9.6">-1</text>
<text transform="translate(62.40,445.90) scale(0.86,1)" font-size="14.8">10</text>
<text transform="translate(76.20,440.30) scale(0.8,1)" font-size="9.6">-5</text>
<text transform="translate(98.80,445.90) scale(0.86,1)" font-size="14.8">10</text>
<text transform="translate(112.60,440.30) scale(0.8,1)" font-size="9.6">-3</text>
<text transform="translate(131.50,445.90) scale(0.86,1)" font-size="14.8">10</text>
<text transform="translate(145.30,440.30) scale(0.8,1)" font-size="9.6">-1</text>
<text transform="translate(216.30,446.00) scale(0.86,1)" font-size="14.8">10</text>
<text transform="translate(230.10,440.40) scale(0.8,1)" font-size="9.6">-5</text>
<text transform="translate(253.30,446.00) scale(0.86,1)" font-size="14.8">10</text>
<text transform="translate(267.10,440.40) scale(0.8,1)" font-size="9.6">-3</text>
<text transform="translate(285.80,446.00) scale(0.86,1)" font-size="14.8">10</text>
<text transform="translate(299.60,440.40) scale(0.8,1)" font-size="9.6">-1</text>
<text transform="translate(371.16,446.10) scale(0.86,1)" font-size="14.8">10</text>
<text transform="translate(384.96,440.50) scale(0.8,1)" font-size="9.6">-5</text>
<text transform="translate(408.08,446.10) scale(0.86,1)" font-size="14.8">10</text>
<text transform="translate(421.88,440.50) scale(0.8,1)" font-size="9.6">-3</text>
<text transform="translate(441.50,446.10) scale(0.86,1)" font-size="14.8">10</text>
<text transform="translate(455.30,440.50) scale(0.8,1)" font-size="9.6">-1</text>
<text transform="translate(524.70,446.00) scale(0.86,1)" font-size="14.8">10</text>
<text transform="translate(538.50,440.40) scale(0.8,1)" font-size="9.6">-5</text>
<text transform="translate(560.90,446.00) scale(0.86,1)" font-size="14.8">10</text>
<text transform="translate(574.70,440.40) scale(0.8,1)" font-size="9.6">-3</text>
<text transform="translate(593.60,446.00) scale(0.86,1)" font-size="14.8">10</text>
<text transform="translate(607.40,440.40) scale(0.8,1)" font-size="9.6">-1</text>
<text x="12.50" y="17.00" font-size="22" text-anchor="start" font-weight="bold" fill="#000" >(a)</text>
<text x="152.70" y="16.30" font-size="22" text-anchor="start" font-weight="bold" fill="#000" >(b)</text>
<text x="257.80" y="16.30" font-size="22" text-anchor="start" font-weight="bold" fill="#000" >(c)</text>
<text x="363.30" y="53.30" font-size="22" text-anchor="start" font-weight="bold" fill="#000" >(d)</text>
<text x="537.70" y="53.30" font-size="22" text-anchor="start" font-weight="bold" fill="#000" >(e)</text>
<text x="364.70" y="183.30" font-size="22" text-anchor="start" font-weight="bold" fill="#000" >(f)</text>
<text x="16.90" y="323.40" font-size="22" text-anchor="start" font-weight="bold" fill="#000" >(g)</text>
<text x="150.70" y="341.00" font-size="22" text-anchor="start" font-weight="bold" fill="#000" >(h)</text>
<text x="464.90" y="340.20" font-size="22" text-anchor="start" font-weight="bold" fill="#000" >(i)</text>
<text x="51.40" y="31.30" font-size="14.5" text-anchor="start" font-weight="normal" fill="#000" >Stepwise error</text>
<text x="179.80" y="31.80" font-size="14.5" text-anchor="start" font-weight="normal" fill="#000" >3-step error</text>
<text x="282.00" y="31.30" font-size="14.5" text-anchor="start" font-weight="normal" fill="#000" >+ Shuffle</text>
<text x="54.20" y="335.20" font-size="14.5" text-anchor="start" font-weight="normal" fill="#000" >3-step error</text>
<text x="211.10" y="335.70" font-size="14.5" text-anchor="start" font-weight="normal" fill="#000" >4-step error</text>
<text x="518.60" y="326.60" font-size="14.5" text-anchor="start" font-weight="normal" fill="#000" >4-step error</text>
<text x="97.2" y="316" font-size="14.5">Without bias term, <tspan font-family="Liberation Serif">β</tspan> = 10</text>
<text x="258.70" y="309.70" font-size="9.5" text-anchor="start" font-weight="normal" fill="#000" >-7</text>
<text transform="translate(25.20,89.20) rotate(-90)" x="0" y="0" font-size="14.5" text-anchor="middle" >mRNA ratio</text>
<text transform="translate(10.60,199.20) rotate(-90)" x="0" y="0" font-size="14.5" text-anchor="middle" >Expression</text>
<text transform="translate(22.60,198.70) rotate(-90)" x="0" y="0" font-size="14.2" text-anchor="middle" >probability</text>
<text x="103.20" y="271.50" font-size="14.5" text-anchor="middle" font-weight="normal" fill="#000" >Target ratio</text>
<text x="209.00" y="271.50" font-size="14.5" text-anchor="middle" font-weight="normal" fill="#000" >Target ratio</text>
<text x="310.70" y="271.50" font-size="14.5" text-anchor="middle" font-weight="normal" fill="#000" >Target ratio</text>
<text transform="translate(25.60,386.40) rotate(-90)" x="0" y="0" font-size="14.5" text-anchor="middle" >mRNA ratio</text>
<text x="97.70" y="456.60" font-size="14.5" text-anchor="middle" font-weight="normal" fill="#000" >Target ratio</text>
<text transform="translate(176.70,385.80) rotate(-90)" x="0" y="0" font-size="14.5" text-anchor="middle" >mRNA ratio</text>
<text x="251.20" y="456.20" font-size="14.5" text-anchor="middle" font-weight="normal" fill="#000" >Target ratio</text>
<text transform="translate(316.90,388.10) rotate(-90)" x="0" y="0" font-size="14.0" text-anchor="middle" >Expression</text>
<text transform="translate(329.60,389.70) rotate(-90)" x="0" y="0" font-size="13.8" text-anchor="middle" >probability</text>
<text x="406.60" y="456.50" font-size="14.5" text-anchor="middle" font-weight="normal" fill="#000" >Target ratio</text>
<text transform="translate(487.80,386.00) rotate(-90)" x="0" y="0" font-size="14.5" text-anchor="middle" >mRNA ratio</text>
<text x="560.60" y="457.30" font-size="14.5" text-anchor="middle" font-weight="normal" fill="#000" >Target ratio</text>
<rect x="517.5" y="327.5" width="55" height="14" fill="#fff"/>
<text x="518.90" y="340.00" font-size="14.5" text-anchor="start" font-weight="normal" fill="#000" >r = 0.94</text>
<rect x="518.3" y="354.9" width="50.0" height="15" fill="#fff"/>
<text x="519.30" y="366.90" font-size="14.5" text-anchor="start" font-weight="normal" fill="#000" >r = 0.98</text>
<path d="M538.7 342.6 L547.3 342.6 L547.3 348.7 L551.5 348.7 L543.0 354.8 L534.5 348.7 L538.7 348.7 Z" fill="#7f7f7f"/>
<path d="M314.4 307.3 L322.4 307.3 L322.4 313.1 L326.6 313.1 L318.4 319.0 L310.2 313.1 L314.4 313.1 Z" fill="#7f7f7f"/>
<path d="M632.4 347.2 L640.9 347.2 L640.9 352.7 L645.1 352.7 L636.6 358.8 L628.1 352.7 L632.4 352.7 Z" fill="#7f7f7f"/>
<text x="301.60" y="304.80" font-size="14.5" text-anchor="start" font-weight="normal" fill="#000" >4-cell</text>
<text x="301.60" y="327.20" font-size="14.5" text-anchor="start" font-weight="normal" fill="#000" >4-cell</text>
<text x="614.00" y="341.20" font-size="14.5" text-anchor="start" font-weight="normal" fill="#000" >Zygote</text>
<text x="619.80" y="369.20" font-size="14.5" text-anchor="start" font-weight="normal" fill="#000" >2-cell</text>
<line x1="413.80" y1="153.30" x2="416.30" y2="153.30" stroke="#868686" stroke-width="0.9"/>
<line x1="414.30" y1="142.43" x2="416.30" y2="142.43" stroke="#868686" stroke-width="0.9"/>
<line x1="413.80" y1="131.56" x2="416.30" y2="131.56" stroke="#868686" stroke-width="0.9"/>
<line x1="414.30" y1="120.69" x2="416.30" y2="120.69" stroke="#868686" stroke-width="0.9"/>
<line x1="413.80" y1="109.82" x2="416.30" y2="109.82" stroke="#868686" stroke-width="0.9"/>
<line x1="414.30" y1="98.95" x2="416.30" y2="98.95" stroke="#868686" stroke-width="0.9"/>
<line x1="413.80" y1="88.08" x2="416.30" y2="88.08" stroke="#868686" stroke-width="0.9"/>
<line x1="414.30" y1="77.21" x2="416.30" y2="77.21" stroke="#868686" stroke-width="0.9"/>
<line x1="413.80" y1="66.34" x2="416.30" y2="66.34" stroke="#868686" stroke-width="0.9"/>
<line x1="414.30" y1="55.47" x2="416.30" y2="55.47" stroke="#868686" stroke-width="0.9"/>
<line x1="413.80" y1="44.60" x2="416.30" y2="44.60" stroke="#868686" stroke-width="0.9"/>
<line x1="416.30" y1="153.30" x2="416.30" y2="156.80" stroke="#868686" stroke-width="0.9"/>
<line x1="425.69" y1="153.30" x2="425.69" y2="156.80" stroke="#868686" stroke-width="0.9"/>
<line x1="435.08" y1="153.30" x2="435.08" y2="156.80" stroke="#868686" stroke-width="0.9"/>
<line x1="444.47" y1="153.30" x2="444.47" y2="156.80" stroke="#868686" stroke-width="0.9"/>
<line x1="453.86" y1="153.30" x2="453.86" y2="156.80" stroke="#868686" stroke-width="0.9"/>
<line x1="463.25" y1="153.30" x2="463.25" y2="156.80" stroke="#868686" stroke-width="0.9"/>
<line x1="472.64" y1="153.30" x2="472.64" y2="156.80" stroke="#868686" stroke-width="0.9"/>
<line x1="482.03" y1="153.30" x2="482.03" y2="156.80" stroke="#868686" stroke-width="0.9"/>
<line x1="491.42" y1="153.30" x2="491.42" y2="156.80" stroke="#868686" stroke-width="0.9"/>
<line x1="500.81" y1="153.30" x2="500.81" y2="156.80" stroke="#868686" stroke-width="0.9"/>
<line x1="510.20" y1="153.30" x2="510.20" y2="156.80" stroke="#868686" stroke-width="0.9"/>
<line x1="416.30" y1="44.10" x2="416.30" y2="153.30" stroke="#868686" stroke-width="1.1"/>
<line x1="416.30" y1="153.30" x2="510.20" y2="153.30" stroke="#868686" stroke-width="1.1"/>
<text x="411.60" y="155.30" font-size="14.5" text-anchor="end" font-weight="normal" fill="#000" >0</text>
<text x="411.60" y="137.80" font-size="14.5" text-anchor="end" font-weight="normal" fill="#000" >0.2</text>
<text x="411.60" y="116.30" font-size="14.5" text-anchor="end" font-weight="normal" fill="#000" >0.4</text>
<text x="411.60" y="93.60" font-size="14.5" text-anchor="end" font-weight="normal" fill="#000" >0.6</text>
<text x="411.60" y="71.10" font-size="14.5" text-anchor="end" font-weight="normal" fill="#000" >0.8</text>
<text x="411.60" y="51.20" font-size="14.5" text-anchor="end" font-weight="normal" fill="#000" >1.0</text>
<path d="M416.30 49.30 L416.86 49.42 L417.62 49.56 L418.53 49.74 L419.53 49.96 L420.57 50.25 L421.60 50.60 L422.64 51.02 L423.73 51.49 L424.87 52.02 L426.02 52.62 L427.17 53.28 L428.30 54.00 L429.42 54.81 L430.54 55.69 L431.66 56.64 L432.77 57.64 L433.85 58.67 L434.90 59.70 L435.90 60.75 L436.87 61.83 L437.81 62.93 L438.73 64.06 L439.66 65.22 L440.60 66.40 L441.55 67.63 L442.50 68.90 L443.45 70.21 L444.40 71.51 L445.35 72.78 L446.30 74.00 L447.16 75.08 L447.90 76.02 L448.65 76.94 L449.51 77.93 L450.59 79.12 L452.00 80.60 L453.91 82.53 L456.27 84.86 L458.85 87.38 L461.43 89.88 L463.79 92.16 L465.70 94.00 L467.11 95.36 L468.19 96.41 L469.05 97.22 L469.80 97.91 L470.54 98.57 L471.40 99.30 L472.35 100.07 L473.30 100.81 L474.25 101.52 L475.20 102.20 L476.15 102.86 L477.10 103.50 L478.05 104.13 L479.00 104.73 L479.95 105.32 L480.90 105.88 L481.85 106.41 L482.80 106.90 L483.75 107.35 L484.70 107.76 L485.64 108.14 L486.59 108.50 L487.54 108.85 L488.50 109.20 L489.46 109.54 L490.43 109.88 L491.40 110.20 L492.37 110.51 L493.34 110.81 L494.30 111.10 L495.21 111.36 L496.05 111.59 L496.89 111.80 L497.79 112.03 L498.81 112.29 L500.00 112.60 L501.52 113.01 L503.36 113.51 L505.31 114.04 L507.18 114.56 L508.77 114.99 L509.90 115.30" fill="none" stroke="#A5A5A5" stroke-width="2.3" stroke-linejoin="round" stroke-linecap="butt" />
<path d="M416.30 45.10 L416.86 45.12 L417.62 45.11 L418.53 45.12 L419.53 45.18 L420.57 45.33 L421.60 45.60 L422.64 46.01 L423.73 46.52 L424.87 47.12 L426.02 47.80 L427.17 48.53 L428.30 49.30 L429.42 50.12 L430.54 51.02 L431.66 51.97 L432.77 52.96 L433.85 53.97 L434.90 55.00 L435.90 56.04 L436.87 57.10 L437.81 58.18 L438.73 59.29 L439.66 60.43 L440.60 61.60 L441.55 62.82 L442.50 64.09 L443.45 65.39 L444.40 66.70 L445.35 67.97 L446.30 69.20 L447.16 70.28 L447.90 71.22 L448.65 72.13 L449.51 73.14 L450.59 74.35 L452.00 75.90 L453.91 77.94 L456.27 80.42 L458.85 83.11 L461.43 85.79 L463.79 88.23 L465.70 90.20 L467.11 91.67 L468.19 92.79 L469.05 93.68 L469.80 94.43 L470.54 95.14 L471.40 95.90 L472.35 96.70 L473.30 97.44 L474.25 98.14 L475.20 98.81 L476.15 99.46 L477.10 100.10 L478.05 100.73 L479.00 101.33 L479.95 101.92 L480.90 102.48 L481.85 103.01 L482.80 103.50 L483.75 103.95 L484.70 104.36 L485.64 104.74 L486.59 105.10 L487.54 105.45 L488.50 105.80 L489.46 106.14 L490.43 106.48 L491.40 106.80 L492.37 107.11 L493.34 107.41 L494.30 107.70 L495.21 107.96 L496.05 108.20 L496.89 108.43 L497.79 108.66 L498.81 108.91 L500.00 109.20 L501.52 109.56 L503.36 109.99 L505.31 110.44 L507.18 110.87 L508.77 111.24 L509.90 111.50" fill="none" stroke="#ED7D31" stroke-width="2.3" stroke-linejoin="round" stroke-linecap="butt" />
<path d="M416.30 68.30 L416.86 67.74 L417.62 66.95 L418.53 66.02 L419.53 65.06 L420.57 64.19 L421.60 63.50 L422.64 62.99 L423.73 62.58 L424.87 62.25 L426.02 61.99 L427.17 61.77 L428.30 61.60 L429.42 61.47 L430.54 61.40 L431.66 61.39 L432.77 61.42 L433.85 61.49 L434.90 61.60 L435.90 61.74 L436.87 61.92 L437.81 62.14 L438.73 62.41 L439.66 62.73 L440.60 63.10 L441.55 63.55 L442.50 64.09 L443.45 64.67 L444.40 65.27 L445.35 65.86 L446.30 66.40 L447.16 66.82 L447.90 67.12 L448.65 67.41 L449.51 67.78 L450.59 68.35 L452.00 69.20 L453.91 70.49 L456.27 72.15 L458.85 74.00 L461.43 75.85 L463.79 77.51 L465.70 78.80 L467.11 79.67 L468.19 80.27 L469.05 80.68 L469.80 80.99 L470.54 81.26 L471.40 81.60 L472.35 81.97 L473.30 82.31 L474.25 82.63 L475.20 82.93 L476.15 83.22 L477.10 83.50 L478.05 83.77 L479.00 84.03 L479.95 84.28 L480.90 84.52 L481.85 84.76 L482.80 85.00 L483.75 85.23 L484.70 85.46 L485.64 85.67 L486.59 85.90 L487.54 86.14 L488.50 86.40 L489.46 86.69 L490.43 87.00 L491.40 87.32 L492.37 87.65 L493.34 87.98 L494.30 88.30 L495.21 88.62 L496.05 88.95 L496.89 89.27 L497.79 89.60 L498.81 89.91 L500.00 90.20 L501.52 90.49 L503.36 90.79 L505.31 91.07 L507.18 91.33 L508.77 91.54 L509.90 91.70" fill="none" stroke="#FFC000" stroke-width="2.3" stroke-linejoin="round" stroke-linecap="butt" />
<path d="M416.30 110.10 L416.86 109.16 L417.62 107.87 L418.53 106.33 L419.53 104.68 L420.57 103.03 L421.60 101.50 L422.64 100.07 L423.73 98.63 L424.87 97.19 L426.02 95.76 L427.17 94.36 L428.30 93.00 L429.42 91.67 L430.54 90.37 L431.66 89.09 L432.77 87.83 L433.85 86.60 L434.90 85.40 L435.90 84.20 L436.87 82.99 L437.81 81.81 L438.73 80.69 L439.66 79.64 L440.60 78.70 L441.55 77.90 L442.50 77.22 L443.45 76.62 L444.40 76.06 L445.35 75.50 L446.30 74.90 L447.16 74.24 L447.90 73.54 L448.65 72.84 L449.51 72.18 L450.59 71.59 L452.00 71.10 L453.91 70.73 L456.27 70.45 L458.85 70.24 L461.43 70.08 L463.79 69.94 L465.70 69.80 L467.11 69.66 L468.19 69.56 L469.05 69.47 L469.80 69.40 L470.54 69.35 L471.40 69.30 L472.35 69.27 L473.30 69.24 L474.25 69.24 L475.20 69.24 L476.15 69.27 L477.10 69.30 L478.05 69.36 L479.00 69.43 L479.95 69.53 L480.90 69.62 L481.85 69.72 L482.80 69.80 L483.75 69.87 L484.70 69.94 L485.64 70.01 L486.59 70.07 L487.54 70.13 L488.50 70.20 L489.46 70.27 L490.43 70.34 L491.40 70.41 L492.37 70.48 L493.34 70.54 L494.30 70.60 L495.21 70.64 L496.05 70.67 L496.89 70.70 L497.79 70.73 L498.81 70.76 L500.00 70.80 L501.52 70.86 L503.36 70.93 L505.31 71.01 L507.18 71.09 L508.77 71.15 L509.90 71.20" fill="none" stroke="#5B9BD5" stroke-width="2.3" stroke-linejoin="round" stroke-linecap="butt" />
<path d="M416.30 113.90 L416.86 112.87 L417.62 111.44 L418.53 109.74 L419.53 107.92 L420.57 106.09 L421.60 104.40 L422.64 102.78 L423.73 101.13 L424.87 99.47 L426.02 97.86 L427.17 96.32 L428.30 94.90 L429.42 93.62 L430.54 92.46 L431.66 91.37 L432.77 90.32 L433.85 89.28 L434.90 88.20 L435.90 87.07 L436.87 85.93 L437.81 84.78 L438.73 83.66 L439.66 82.59 L440.60 81.60 L441.55 80.68 L442.50 79.83 L443.45 79.03 L444.40 78.26 L445.35 77.52 L446.30 76.80 L447.16 76.09 L447.90 75.41 L448.65 74.75 L449.51 74.13 L450.59 73.54 L452.00 73.00 L453.91 72.50 L456.27 72.04 L458.85 71.61 L461.43 71.23 L463.79 70.89 L465.70 70.60 L467.11 70.36 L468.19 70.19 L469.05 70.05 L469.80 69.95 L470.54 69.87 L471.40 69.80 L472.35 69.74 L473.30 69.70 L474.25 69.69 L475.20 69.70 L476.15 69.73 L477.10 69.80 L478.05 69.91 L479.00 70.07 L479.95 70.26 L480.90 70.45 L481.85 70.64 L482.80 70.80 L483.75 70.94 L484.70 71.08 L485.64 71.21 L486.59 71.33 L487.54 71.43 L488.50 71.50 L489.46 71.54 L490.43 71.55 L491.40 71.54 L492.37 71.53 L493.34 71.51 L494.30 71.50 L495.21 71.49 L496.05 71.46 L496.89 71.44 L497.79 71.43 L498.81 71.44 L500.00 71.50 L501.52 71.62 L503.36 71.80 L505.31 72.00 L507.18 72.20 L508.77 72.38 L509.90 72.50" fill="none" stroke="#70AD47" stroke-width="2.3" stroke-linejoin="round" stroke-linecap="butt" />
<path d="M416.30 118.40 L416.86 116.98 L417.62 115.01 L418.53 112.68 L419.53 110.17 L420.57 107.65 L421.60 105.30 L422.64 103.08 L423.73 100.84 L424.87 98.60 L426.02 96.37 L427.17 94.16 L428.30 92.00 L429.42 89.86 L430.54 87.72 L431.66 85.61 L432.77 83.56 L433.85 81.58 L434.90 79.70 L435.90 77.93 L436.87 76.26 L437.81 74.66 L438.73 73.12 L439.66 71.64 L440.60 70.20 L441.55 68.79 L442.50 67.42 L443.45 66.11 L444.40 64.86 L445.35 63.68 L446.30 62.60 L447.16 61.64 L447.90 60.81 L448.65 60.06 L449.51 59.33 L450.59 58.60 L452.00 57.80 L453.91 56.91 L456.27 55.94 L458.85 54.97 L461.43 54.03 L463.79 53.19 L465.70 52.50 L467.11 51.98 L468.19 51.61 L469.05 51.33 L469.80 51.09 L470.54 50.87 L471.40 50.60 L472.35 50.30 L473.30 49.99 L474.25 49.69 L475.20 49.41 L476.15 49.14 L477.10 48.90 L478.05 48.69 L479.00 48.50 L479.95 48.32 L480.90 48.17 L481.85 48.03 L482.80 47.90 L483.75 47.78 L484.70 47.68 L485.64 47.59 L486.59 47.51 L487.54 47.45 L488.50 47.40 L489.46 47.37 L490.43 47.37 L491.40 47.38 L492.37 47.40 L493.34 47.41 L494.30 47.40 L495.21 47.38 L496.05 47.36 L496.89 47.32 L497.79 47.29 L498.81 47.25 L500.00 47.20 L501.52 47.14 L503.36 47.07 L505.31 46.99 L507.18 46.91 L508.77 46.85 L509.90 46.80" fill="none" stroke="#264478" stroke-width="2.3" stroke-linejoin="round" stroke-linecap="butt" />
<text x="415.20" y="169.60" font-size="14.5" text-anchor="middle" font-weight="normal" fill="#000" >0</text>
<text x="421.60" y="172.50" font-size="14.5" text-anchor="start" font-weight="normal" fill="#000" >Repetitions</text>
<text transform="translate(494.66,171.90) scale(1.0,1)" font-size="14.5">10</text>
<text transform="translate(511.30,166.30) scale(1.0,1)" font-size="9.5">6</text>
<text transform="translate(375.10,97.20) rotate(-90)" x="0" y="0" font-size="14.5" text-anchor="middle" >mRNA</text>
<text transform="translate(388.40,97.80) rotate(-90)" x="0" y="0" font-size="14.5" text-anchor="middle" >correlation</text>
<line x1="591.00" y1="148.40" x2="593.50" y2="148.40" stroke="#868686" stroke-width="0.9"/>
<line x1="591.00" y1="137.78" x2="593.50" y2="137.78" stroke="#868686" stroke-width="0.9"/>
<line x1="591.00" y1="127.16" x2="593.50" y2="127.16" stroke="#868686" stroke-width="0.9"/>
<line x1="591.00" y1="116.54" x2="593.50" y2="116.54" stroke="#868686" stroke-width="0.9"/>
<line x1="591.00" y1="105.92" x2="593.50" y2="105.92" stroke="#868686" stroke-width="0.9"/>
<line x1="591.00" y1="95.30" x2="593.50" y2="95.30" stroke="#868686" stroke-width="0.9"/>
<line x1="591.00" y1="84.68" x2="593.50" y2="84.68" stroke="#868686" stroke-width="0.9"/>
<line x1="591.00" y1="74.06" x2="593.50" y2="74.06" stroke="#868686" stroke-width="0.9"/>
<line x1="591.00" y1="63.44" x2="593.50" y2="63.44" stroke="#868686" stroke-width="0.9"/>
<line x1="591.00" y1="52.82" x2="593.50" y2="52.82" stroke="#868686" stroke-width="0.9"/>
<line x1="591.00" y1="42.20" x2="593.50" y2="42.20" stroke="#868686" stroke-width="0.9"/>
<line x1="593.50" y1="148.40" x2="593.50" y2="151.20" stroke="#868686" stroke-width="0.9"/>
<line x1="628.10" y1="148.40" x2="628.10" y2="151.20" stroke="#868686" stroke-width="0.9"/>
<line x1="662.70" y1="148.40" x2="662.70" y2="151.20" stroke="#868686" stroke-width="0.9"/>
<line x1="662.70" y1="145.90" x2="662.70" y2="148.40" stroke="#868686" stroke-width="0.9"/>
<line x1="593.50" y1="41.70" x2="593.50" y2="148.40" stroke="#868686" stroke-width="1.1"/>
<line x1="593.50" y1="148.40" x2="662.70" y2="148.40" stroke="#868686" stroke-width="1.1"/>
<text x="588.60" y="155.00" font-size="14.5" text-anchor="end" font-weight="normal" fill="#000" >0</text>
<text x="588.60" y="137.10" font-size="14.5" text-anchor="end" font-weight="normal" fill="#000" >0.2</text>
<text x="588.60" y="115.40" font-size="14.5" text-anchor="end" font-weight="normal" fill="#000" >0.4</text>
<text x="588.60" y="93.40" font-size="14.5" text-anchor="end" font-weight="normal" fill="#000" >0.6</text>
<text x="588.60" y="71.80" font-size="14.5" text-anchor="end" font-weight="normal" fill="#000" >0.8</text>
<text x="588.60" y="50.80" font-size="14.5" text-anchor="end" font-weight="normal" fill="#000" >1.0</text>
<text x="596.00" y="160.60" font-size="14.5" text-anchor="middle" font-weight="normal" fill="#000" >0</text>
<text x="645.20" y="161.7" font-size="14.5">2x10</text>
<text x="677.20" y="155.80" font-size="9.5" text-anchor="start" font-weight="normal" fill="#000" >4</text>
<text x="593.60" y="172.10" font-size="14.5" text-anchor="start" font-weight="normal" fill="#000" >Repetitions</text>
<text transform="translate(535.90,95.90) rotate(-90)" x="0" y="0" font-size="14.5" text-anchor="middle" >Expression</text>
<text transform="translate(550.00,95.90) rotate(-90)" x="0" y="0" font-size="14.5" text-anchor="middle" >probability</text>
<text transform="translate(564.20,95.90) rotate(-90)" x="0" y="0" font-size="14.5" text-anchor="middle" >correlation</text>
<path d="M593.33 43.71 L594.67 49.79 L596.00 75.55 L597.52 95.76 L599.43 117.91 L601.33 115.89 L603.24 120.16 L605.14 118.14 L607.05 121.50 L608.48 120.58 L609.90 118.55 L611.81 122.19 L613.24 122.30 L614.67 122.79 L616.57 123.53 L618.48 122.10 L620.00 121.49 L621.90 118.27 L623.80 117.12 L625.70 119.73 L627.60 117.68 L629.51 118.77 L631.41 118.07 L633.31 117.85 L635.21 118.24 L637.11 117.56 L639.01 117.68 L640.91 117.31 L642.81 117.35 L644.71 116.03 L646.62 115.16 L648.52 115.86 L650.42 117.43 L652.32 116.51 L654.22 117.18 L656.12 118.50 L658.02 120.35 L659.92 118.57 L661.06 118.75 L662.21 120.09 L663.35 119.37" fill="none" stroke="#A5A5A5" stroke-width="2.2" stroke-linejoin="round" stroke-linecap="butt" />
<path d="M593.33 41.35 L594.67 45.71 L596.00 75.43 L597.52 89.36 L599.43 108.93 L600.38 111.78 L601.33 106.82 L603.24 115.71 L605.14 112.78 L607.05 118.31 L608.48 115.84 L609.90 114.87 L611.81 118.51 L613.24 118.74 L614.67 119.10 L616.57 118.47 L618.48 120.81 L620.00 118.30 L621.90 114.35 L623.80 113.65 L625.70 114.09 L627.60 114.93 L629.51 114.24 L631.41 113.58 L633.31 112.93 L635.21 114.34 L637.11 113.13 L639.01 113.51 L640.91 112.79 L642.81 114.26 L644.71 112.34 L646.62 110.85 L648.52 112.43 L650.42 112.65 L652.32 111.78 L654.22 113.31 L656.12 115.40 L658.02 115.66 L659.92 114.92 L661.06 114.01 L662.21 115.58 L663.35 115.00" fill="none" stroke="#ED7D31" stroke-width="2.2" stroke-linejoin="round" stroke-linecap="butt" />
<path d="M593.33 62.89 L594.48 69.57 L595.62 76.03 L596.57 87.01 L598.48 96.23 L600.38 100.48 L602.29 99.68 L604.19 103.70 L606.10 101.49 L608.00 100.61 L609.90 104.89 L611.81 103.84 L613.24 105.77 L614.67 109.60 L616.57 113.51 L618.48 109.91 L620.00 108.30 L621.90 104.97 L623.80 98.81 L625.70 98.11 L627.60 99.40 L629.51 98.83 L631.41 97.78 L633.31 98.52 L635.21 100.26 L637.11 97.41 L639.01 97.57 L640.91 98.76 L642.81 97.56 L644.71 96.24 L646.62 94.83 L648.52 96.60 L650.42 95.59 L652.32 95.29 L654.22 97.41 L656.12 99.03 L658.02 100.41 L659.92 97.75 L661.06 98.17 L662.21 99.13 L663.35 98.84" fill="none" stroke="#FFC000" stroke-width="2.2" stroke-linejoin="round" stroke-linecap="butt" />
<path d="M593.33 112.29 L594.41 103.12 L595.49 92.70 L596.57 84.33 L598.48 89.34 L599.90 90.17 L601.33 91.58 L602.76 93.38 L604.19 94.83 L606.10 107.72 L607.05 85.22 L608.95 82.19 L610.38 81.35 L611.81 80.89 L613.24 82.10 L614.67 84.00 L616.57 87.36 L618.48 88.90 L620.00 88.60 L621.90 82.66 L623.80 77.76 L625.70 75.05 L627.60 73.97 L629.51 75.07 L631.41 75.47 L633.31 77.64 L635.21 78.14 L637.11 75.49 L639.01 77.43 L640.91 76.11 L642.81 76.18 L644.71 74.98 L646.62 74.66 L648.52 76.20 L650.42 74.78 L652.32 76.68 L654.22 79.86 L656.12 76.74 L658.02 75.78 L659.92 75.99 L661.06 74.80 L662.21 75.84 L663.35 75.07" fill="none" stroke="#70AD47" stroke-width="2.2" stroke-linejoin="round" stroke-linecap="butt" />
<path d="M593.33 112.52 L594.41 103.21 L595.49 93.56 L596.57 84.13 L598.48 87.12 L600.38 85.58 L601.81 86.97 L603.24 88.41 L604.38 86.79 L605.52 85.73 L607.05 81.90 L608.48 81.42 L609.90 80.91 L611.81 81.74 L613.24 81.42 L614.67 82.76 L616.57 93.75 L618.48 84.74 L620.00 89.01 L621.90 81.26 L623.80 75.67 L625.70 74.63 L627.60 73.22 L629.51 73.94 L631.41 74.58 L633.31 76.70 L635.21 76.52 L637.11 73.33 L639.01 74.23 L640.91 72.64 L642.81 74.24 L644.71 72.55 L646.62 70.67 L648.52 72.28 L650.42 73.47 L652.32 71.14 L654.22 72.28 L656.12 74.13 L658.02 73.06 L659.92 72.50 L661.06 72.46 L662.21 73.19 L663.35 73.17" fill="none" stroke="#5B9BD5" stroke-width="2.2" stroke-linejoin="round" stroke-linecap="butt" />
<path d="M593.33 112.90 L594.41 102.85 L595.49 91.93 L596.57 82.16 L598.48 79.43 L600.38 76.18 L602.29 78.80 L604.19 73.30 L606.10 75.99 L608.00 66.31 L609.90 69.26 L611.81 68.53 L613.71 71.67 L615.62 70.55 L616.95 87.21 L618.10 70.61 L619.43 65.22 L620.00 72.95 L621.90 63.08 L622.85 55.96 L624.75 56.35 L626.65 55.57 L628.56 57.45 L630.46 54.21 L632.36 55.52 L634.26 53.02 L636.16 54.22 L638.06 52.35 L639.96 53.84 L641.86 51.98 L643.76 51.93 L645.67 51.56 L647.57 50.98 L649.47 51.85 L651.37 50.86 L653.27 54.36 L655.17 54.38 L657.07 54.22 L658.97 53.87 L660.87 51.50 L662.11 51.11 L663.35 50.93" fill="none" stroke="#264478" stroke-width="2.2" stroke-linejoin="round" stroke-linecap="butt" />
<rect x="371.8" y="1.9" width="296.6" height="32.3" fill="none" stroke="#555" stroke-width="0.8"/>
<line x1="431.60" y1="1.90" x2="431.60" y2="34.20" stroke="#555" stroke-width="0.8"/>
<text x="426.30" y="15.90" font-size="14.5" text-anchor="end" font-weight="normal" fill="#000" >r values</text>
<text x="426.30" y="29.90" font-size="14.5" text-anchor="end" font-weight="normal" fill="#000" >to</text>
<line x1="437.90" y1="10.60" x2="447.50" y2="10.60" stroke="#ED7D31" stroke-width="2.2"/>
<text x="449.40" y="15.90" font-size="14.5" text-anchor="start" font-weight="normal" fill="#000" >Zygote</text>
<line x1="437.90" y1="24.30" x2="447.50" y2="24.30" stroke="#A5A5A5" stroke-width="2.2"/>
<text x="449.40" y="29.60" font-size="14.5" text-anchor="start" font-weight="normal" fill="#000" >2-cell</text>
<line x1="510.80" y1="10.80" x2="520.40" y2="10.80" stroke="#FFC000" stroke-width="2.2"/>
<text x="529.80" y="16.10" font-size="14.5" text-anchor="start" font-weight="normal" fill="#000" >4-cell</text>
<line x1="510.80" y1="25.00" x2="520.40" y2="25.00" stroke="#5B9BD5" stroke-width="2.2"/>
<text x="529.80" y="30.30" font-size="14.5" text-anchor="start" font-weight="normal" fill="#000" >8-cell</text>
<line x1="583.80" y1="10.80" x2="593.40" y2="10.80" stroke="#70AD47" stroke-width="2.2"/>
<text x="595.40" y="16.10" font-size="14.5" text-anchor="start" font-weight="normal" fill="#000" >Morula</text>
<line x1="583.80" y1="25.00" x2="593.40" y2="25.00" stroke="#264478" stroke-width="2.2"/>
<text x="595.40" y="30.30" font-size="14.5" text-anchor="start" font-weight="normal" fill="#000" >Blastocyst</text>
<line x1="413.90" y1="292.40" x2="416.40" y2="292.40" stroke="#868686" stroke-width="0.9"/>
<line x1="413.90" y1="281.51" x2="416.40" y2="281.51" stroke="#868686" stroke-width="0.9"/>
<line x1="413.90" y1="270.62" x2="416.40" y2="270.62" stroke="#868686" stroke-width="0.9"/>
<line x1="413.90" y1="259.73" x2="416.40" y2="259.73" stroke="#868686" stroke-width="0.9"/>
<line x1="413.90" y1="248.84" x2="416.40" y2="248.84" stroke="#868686" stroke-width="0.9"/>
<line x1="413.90" y1="237.95" x2="416.40" y2="237.95" stroke="#868686" stroke-width="0.9"/>
<line x1="413.90" y1="227.06" x2="416.40" y2="227.06" stroke="#868686" stroke-width="0.9"/>
<line x1="413.90" y1="216.17" x2="416.40" y2="216.17" stroke="#868686" stroke-width="0.9"/>
<line x1="413.90" y1="205.28" x2="416.40" y2="205.28" stroke="#868686" stroke-width="0.9"/>
<line x1="413.90" y1="194.39" x2="416.40" y2="194.39" stroke="#868686" stroke-width="0.9"/>
<line x1="413.90" y1="183.50" x2="416.40" y2="183.50" stroke="#868686" stroke-width="0.9"/>
<line x1="416.40" y1="292.40" x2="416.40" y2="295.90" stroke="#868686" stroke-width="0.9"/>
<line x1="425.76" y1="292.40" x2="425.76" y2="295.90" stroke="#868686" stroke-width="0.9"/>
<line x1="435.12" y1="292.40" x2="435.12" y2="295.90" stroke="#868686" stroke-width="0.9"/>
<line x1="444.48" y1="292.40" x2="444.48" y2="295.90" stroke="#868686" stroke-width="0.9"/>
<line x1="453.84" y1="292.40" x2="453.84" y2="295.90" stroke="#868686" stroke-width="0.9"/>
<line x1="463.20" y1="292.40" x2="463.20" y2="295.90" stroke="#868686" stroke-width="0.9"/>
<line x1="472.56" y1="292.40" x2="472.56" y2="295.90" stroke="#868686" stroke-width="0.9"/>
<line x1="481.92" y1="292.40" x2="481.92" y2="295.90" stroke="#868686" stroke-width="0.9"/>
<line x1="491.28" y1="292.40" x2="491.28" y2="295.90" stroke="#868686" stroke-width="0.9"/>
<line x1="500.64" y1="292.40" x2="500.64" y2="295.90" stroke="#868686" stroke-width="0.9"/>
<line x1="510.00" y1="292.40" x2="510.00" y2="295.90" stroke="#868686" stroke-width="0.9"/>
<text x="411.00" y="297.20" font-size="13.5" text-anchor="end" font-weight="normal" fill="#000" >0</text>
<text x="411.00" y="276.20" font-size="13.5" text-anchor="end" font-weight="normal" fill="#000" >20</text>
<text x="411.00" y="254.90" font-size="13.5" text-anchor="end" font-weight="normal" fill="#000" >40</text>
<text x="411.00" y="231.30" font-size="13.5" text-anchor="end" font-weight="normal" fill="#000" >60</text>
<text x="411.00" y="210.00" font-size="13.5" text-anchor="end" font-weight="normal" fill="#000" >80</text>
<text x="411.00" y="189.40" font-size="13.5" text-anchor="end" font-weight="normal" fill="#000" >100</text>
<text x="414.90" y="307.80" font-size="14.5" text-anchor="middle" font-weight="normal" fill="#000" >0</text>
<text x="421.90" y="311.00" font-size="14.5" text-anchor="start" font-weight="normal" fill="#000" >Repetitions</text>
<text transform="translate(494.66,310.50) scale(1.0,1)" font-size="14.5">10</text>
<text transform="translate(511.30,304.90) scale(1.0,1)" font-size="9.5">6</text>
<text transform="translate(391.30,241.20) rotate(-90)" x="0" y="0" font-size="14.8" text-anchor="middle" >mRNA (number)</text>
<path d="M455.50 292.01 L456.40 292.05 L457.30 291.52 L458.20 290.30 L459.10 291.38 L460.00 290.87 L460.93 290.18 L461.87 290.75 L462.80 290.52 L463.73 290.38 L464.67 290.12 L465.60 290.33 L466.53 289.29 L467.47 289.37 L468.40 288.91 L469.33 289.36 L470.27 288.82 L471.20 288.42 L472.55 287.78 L473.90 287.75 L474.83 287.67 L475.77 287.27 L476.70 287.98 L477.63 287.34 L478.57 284.64 L479.50 284.67 L480.43 285.23 L481.37 284.61 L482.30 284.53 L483.23 284.53 L484.17 285.67 L485.10 283.73 L486.03 284.41 L486.97 286.09 L487.90 285.49 L488.83 285.96 L489.77 285.72 L490.70 285.51 L491.63 286.37 L492.57 286.10 L493.50 285.06 L494.85 285.04 L496.20 285.06 L497.13 284.07 L498.07 284.11 L499.00 283.76 L499.93 283.49 L500.87 282.93 L501.80 283.36 L502.73 283.43 L503.67 282.99 L504.60 282.21 L505.53 283.01 L506.47 282.13 L507.40 282.83 L508.45 281.46 L509.50 281.90" fill="none" stroke="#7F7F7F" stroke-width="2.5" stroke-linejoin="round" stroke-linecap="butt" />
<path d="M416.60 291.71 L417.55 291.29 L418.51 291.35 L419.46 290.14 L420.42 292.68 L421.37 292.29 L422.32 291.40 L423.28 292.06 L424.23 291.77 L425.18 291.27 L426.14 292.19 L427.09 291.41 L428.05 291.40 L429.00 291.12 L430.00 291.74 L431.00 291.27 L432.00 291.53 L433.00 290.70 L434.00 291.01 L435.00 290.26 L436.00 290.90 L437.00 290.11 L438.00 289.80 L439.00 289.31 L440.00 287.93 L441.00 288.47 L442.00 289.13 L443.00 286.82 L444.00 286.66 L445.00 286.43 L446.00 287.47 L447.00 286.68 L448.00 286.98 L449.00 286.50 L450.00 285.93 L451.00 285.70 L452.00 285.16 L453.00 285.52 L454.00 284.52 L455.00 285.15 L456.00 285.75 L457.00 286.25 L458.00 284.27 L459.00 283.65 L460.00 283.46 L461.00 283.88 L462.00 282.66 L463.00 282.49 L464.00 279.48 L465.60 280.88 L466.53 281.19 L467.47 280.08 L468.40 281.39 L469.33 281.56 L470.27 280.42 L471.20 280.50 L472.55 281.82 L473.90 281.06 L474.83 280.97 L475.77 280.90 L476.70 281.99 L477.63 281.72 L478.57 281.96 L479.50 282.24 L480.43 282.56 L481.37 281.39 L482.30 280.98 L483.23 280.81 L484.17 283.35 L485.10 283.04 L486.03 283.54 L486.97 282.26 L487.90 281.45 L488.83 282.55 L489.77 282.59 L490.70 282.25 L491.63 282.70 L492.57 284.53 L493.50 283.91 L494.85 283.95 L496.20 283.53 L497.13 283.05 L498.07 283.77 L499.00 282.94 L499.93 282.08 L500.87 281.99 L501.80 281.06 L502.73 281.61 L503.67 282.08 L504.60 280.80 L505.58 282.16 L506.56 280.90 L507.54 281.39 L508.52 280.80 L509.50 281.30" fill="none" stroke="#FFC000" stroke-width="2.5" stroke-linejoin="round" stroke-linecap="butt" />
<path d="M416.60 292.32 L417.73 288.80 L418.87 289.82 L420.00 288.46 L421.00 287.80 L422.00 287.20 L423.00 285.39 L424.00 285.69 L425.00 284.55 L426.00 286.29 L427.00 283.44 L428.00 282.09 L429.00 281.13 L430.00 279.67 L431.00 278.20 L432.00 277.37 L433.00 276.36 L434.00 274.39 L435.00 273.57 L436.50 269.88 L438.00 268.51 L439.15 269.83 L440.30 269.63 L441.40 269.35 L442.50 269.89 L443.50 270.09 L444.50 270.69 L445.50 269.14 L446.50 269.39 L447.50 270.37 L448.50 269.47 L449.50 270.09 L450.50 271.06 L451.50 271.15 L452.65 268.95 L453.80 267.40 L454.90 265.70 L456.00 268.41 L457.00 267.22 L458.00 266.80 L459.00 267.97 L460.00 268.02 L460.93 267.10 L461.87 266.49 L462.80 266.92 L463.73 266.87 L464.67 267.74 L465.60 267.35 L466.53 266.35 L467.47 266.23 L468.40 264.78 L469.33 262.24 L470.27 261.05 L471.20 258.95 L472.55 258.82 L473.90 258.83 L474.83 258.97 L475.77 256.87 L476.70 258.31 L477.63 258.19 L478.57 256.92 L479.50 257.94 L480.43 257.79 L481.37 259.29 L482.30 258.08 L483.23 259.45 L484.17 261.13 L485.10 262.09 L486.03 259.64 L486.97 260.17 L487.90 260.20 L488.83 258.93 L489.77 259.55 L490.70 257.19 L491.63 257.41 L492.57 255.87 L493.50 256.64 L494.85 255.44 L496.20 254.88 L497.13 253.60 L498.07 255.18 L499.00 254.15 L499.93 254.39 L500.87 254.85 L501.80 254.61 L502.73 253.55 L503.67 252.99 L504.60 252.52 L505.65 252.42 L506.70 249.32 L507.63 250.08 L508.57 250.47 L509.50 250.90" fill="none" stroke="#2E6FAC" stroke-width="2.5" stroke-linejoin="round" stroke-linecap="butt" />
<path d="M416.60 267.41 L417.55 268.05 L418.50 269.50 L419.65 268.55 L420.80 266.82 L421.90 268.15 L423.00 268.13 L424.15 267.84 L425.30 266.04 L426.40 267.90 L427.50 268.64 L428.65 267.60 L429.80 264.99 L430.90 264.71 L432.00 263.10 L433.00 265.12 L434.00 262.38 L435.00 263.96 L436.00 262.60 L437.00 261.77 L438.00 261.41 L439.00 261.13 L440.00 261.49 L441.00 260.93 L442.00 261.39 L443.00 258.90 L444.00 259.50 L445.00 259.23 L446.00 260.50 L447.00 259.03 L448.00 260.09 L449.00 260.43 L450.00 259.41 L451.00 261.12 L452.00 260.87 L453.00 261.60 L454.00 261.08 L455.00 259.41 L456.00 259.02 L457.00 258.64 L458.00 258.48 L459.00 257.81 L460.15 257.22 L461.30 257.64 L462.80 256.72 L463.73 256.38 L464.67 256.12 L465.60 255.72 L466.53 256.10 L467.47 253.63 L468.40 252.83 L469.45 254.33 L470.50 254.53 L471.50 256.63 L472.50 258.61 L473.43 259.53 L474.37 258.74 L475.30 260.82 L476.65 259.44 L478.00 259.40 L478.97 259.57 L479.93 259.23 L480.90 259.24 L481.83 258.00 L482.77 257.19 L483.70 256.69 L484.63 256.37 L485.57 258.16 L486.50 257.43 L487.43 258.08 L488.37 261.00 L489.30 260.62 L490.23 260.46 L491.17 262.74 L492.10 261.90 L493.15 258.89 L494.20 253.90 L495.20 252.85 L496.20 250.59 L497.13 250.92 L498.07 251.95 L499.00 252.95 L499.93 253.95 L500.87 255.39 L501.80 253.78 L502.73 254.54 L503.67 253.10 L504.60 252.91 L505.53 251.64 L506.47 251.18 L507.40 251.13 L508.45 252.28 L509.50 254.40" fill="none" stroke="#8B0A0A" stroke-width="2.5" stroke-linejoin="round" stroke-linecap="butt" />
<path d="M416.60 289.82 L417.73 287.27 L418.87 285.68 L420.00 283.85 L421.00 281.25 L422.00 277.60 L423.00 274.17 L424.00 270.03 L425.00 266.95 L426.00 263.48 L427.00 259.66 L428.00 255.76 L429.00 252.93 L430.50 245.46 L431.65 244.62 L432.80 243.46 L433.90 244.85 L435.00 244.60 L436.15 243.77 L437.30 242.71 L438.40 242.57 L439.50 243.33 L440.65 241.86 L441.80 240.45 L442.90 239.90 L444.00 239.00 L445.15 235.66 L446.30 234.65 L447.30 233.71 L448.30 233.70 L449.30 232.53 L450.40 232.91 L451.50 232.48 L453.00 236.12 L454.15 234.92 L455.30 234.56 L456.40 233.00 L457.50 231.69 L458.75 233.38 L460.00 233.33 L461.25 234.20 L462.50 233.43 L463.80 227.80 L465.10 225.16 L466.05 220.24 L467.00 216.82 L467.95 216.83 L468.90 215.61 L469.85 219.21 L470.80 221.75 L472.00 224.98 L473.30 223.99 L474.60 225.44 L475.85 222.79 L477.10 221.70 L478.05 219.45 L479.00 218.87 L479.95 217.09 L480.90 216.96 L481.85 215.24 L482.80 214.71 L483.75 217.25 L484.70 218.94 L485.65 221.16 L486.60 223.91 L487.55 221.61 L488.50 220.71 L489.80 218.69 L491.10 217.17 L492.35 214.03 L493.60 211.61 L494.55 211.20 L495.50 210.46 L496.75 210.53 L498.00 212.24 L499.30 209.67 L500.60 208.48 L501.85 207.78 L503.10 208.48 L504.05 206.43 L505.00 204.82 L506.00 205.67 L507.00 207.55 L507.90 208.22 L508.80 210.40" fill="none" stroke="#5B9BD5" stroke-width="2.5" stroke-linejoin="round" stroke-linecap="butt" />
<path d="M416.60 291.73 L417.73 290.13 L418.87 285.50 L420.00 284.92 L421.00 282.61 L422.00 279.81 L423.00 276.39 L424.15 270.90 L425.30 264.17 L426.80 259.13 L427.90 258.16 L429.00 256.66 L430.15 255.29 L431.30 254.53 L432.40 252.45 L433.50 252.06 L434.65 250.93 L435.80 250.08 L436.90 247.48 L438.00 246.83 L439.15 243.96 L440.30 242.51 L441.40 241.95 L442.50 240.97 L443.50 238.57 L444.50 237.23 L445.50 237.21 L446.65 235.38 L447.80 235.53 L448.80 233.77 L449.80 232.45 L450.80 231.13 L451.90 230.79 L453.00 229.41 L454.00 230.42 L455.00 229.72 L456.00 230.17 L457.00 229.63 L458.00 230.13 L459.00 229.52 L460.00 232.78 L461.25 235.75 L462.50 235.58 L463.80 235.08 L465.10 234.74 L466.05 230.50 L467.00 224.31 L468.20 217.22 L469.15 211.16 L470.10 204.52 L471.05 202.68 L472.00 199.61 L473.00 196.36 L474.00 193.99 L475.20 189.20 L476.50 189.54 L477.80 190.57 L479.05 191.78 L480.30 191.72 L481.25 191.23 L482.20 190.68 L483.45 188.26 L484.70 186.64 L486.00 188.77 L487.30 188.75 L488.55 189.00 L489.80 186.47 L491.05 187.21 L492.30 186.42 L493.25 187.27 L494.20 188.25 L495.15 190.11 L496.10 191.15 L497.05 188.31 L498.00 184.56 L499.30 186.38 L500.60 186.38 L501.85 187.12 L503.10 187.36 L504.40 187.71 L505.70 185.40 L506.65 185.10 L507.60 185.11 L508.55 184.95 L509.50 186.30" fill="none" stroke="#70AD47" stroke-width="2.5" stroke-linejoin="round" stroke-linecap="butt" />
<path d="M416.60 285.80 L417.55 284.88 L418.50 283.44 L419.65 283.77 L420.80 284.73 L421.90 283.71 L423.00 283.64 L424.00 284.14 L425.00 282.77 L426.00 282.43 L427.00 282.59 L428.00 282.01 L429.00 281.36 L430.00 279.98 L431.00 279.75 L432.00 279.42 L433.00 277.73 L434.00 277.79 L435.00 276.46 L435.95 276.05 L436.90 274.94 L437.85 275.13 L438.80 273.74 L440.30 270.16 L441.80 262.59 L443.30 254.89 L444.80 245.99 L446.30 241.18 L447.40 238.47 L448.50 235.57 L449.65 232.73 L450.80 231.51 L451.90 229.71 L453.00 228.31 L454.50 230.14 L456.00 230.52 L457.00 231.98 L458.00 233.53 L459.00 233.65 L460.00 235.73 L461.25 237.12 L462.50 238.34 L463.80 232.51 L465.10 228.25 L466.05 227.77 L467.00 224.77 L468.25 227.17 L469.50 227.67 L470.75 226.57 L472.00 227.50 L473.30 227.41 L474.60 226.88 L475.55 227.29 L476.50 227.25 L477.75 229.34 L479.00 232.41 L480.30 233.86 L481.60 236.20 L482.85 237.61 L484.10 237.29 L485.35 238.12 L486.60 238.02 L487.90 237.13 L489.20 235.09 L490.45 234.20 L491.70 233.18 L492.95 231.94 L494.20 230.19 L495.50 225.51 L496.80 222.62 L498.05 222.89 L499.30 220.70 L500.60 219.07 L501.90 216.74 L502.85 218.50 L503.80 219.11 L504.75 220.10 L505.70 221.68 L506.65 223.30 L507.60 225.91 L508.55 225.39 L509.50 226.30" fill="none" stroke="#FF0000" stroke-width="2.5" stroke-linejoin="round" stroke-linecap="butt" />
<path d="M416.60 290.06 L417.55 287.30 L418.50 284.28 L419.65 282.64 L420.80 279.21 L421.90 276.69 L423.00 272.43 L424.15 269.04 L425.30 264.57 L426.40 260.34 L427.50 255.46 L429.00 244.47 L429.80 237.52 L431.30 240.90 L432.80 237.41 L434.30 234.37 L435.80 231.77 L436.90 230.76 L438.00 227.50 L439.40 224.82 L440.60 231.02 L441.60 228.05 L442.60 224.02 L443.80 224.02 L444.75 223.73 L445.70 223.66 L447.00 223.71 L448.30 227.73 L449.55 227.16 L450.80 229.83 L452.05 228.68 L453.30 228.16 L454.50 235.45 L455.50 238.37 L456.50 239.19 L457.50 242.43 L458.75 244.33 L460.00 244.78 L460.93 244.29 L461.87 245.49 L462.80 247.41 L463.73 246.68 L464.67 246.73 L465.60 247.30 L466.53 248.10 L467.47 248.08 L468.40 248.62 L469.45 247.99 L470.50 246.14 L471.50 248.71 L472.50 250.22 L473.55 253.04 L474.60 254.41 L475.53 254.85 L476.47 257.31 L477.40 256.52 L478.33 257.59 L479.27 259.42 L480.20 259.07 L481.13 259.70 L482.07 260.97 L483.00 261.65 L484.05 264.46 L485.10 265.30 L486.15 267.61 L487.20 267.39 L488.13 267.15 L489.07 266.88 L490.00 267.28 L490.93 267.01 L491.87 267.72 L492.80 266.57 L494.15 265.72 L495.50 265.36 L496.55 264.71 L497.60 265.82 L498.53 267.14 L499.47 267.23 L500.40 267.22 L501.33 267.06 L502.27 270.44 L503.20 269.96 L504.13 270.92 L505.07 270.35 L506.00 272.19 L507.05 272.11 L508.10 272.53 L509.50 275.30" fill="none" stroke="#000" stroke-width="2.5" stroke-linejoin="round" stroke-linecap="butt" />
<line x1="416.40" y1="183.00" x2="416.40" y2="292.40" stroke="#868686" stroke-width="1.1"/>
<line x1="416.40" y1="292.40" x2="510.00" y2="292.40" stroke="#868686" stroke-width="1.1"/>
<rect x="517.4" y="176.3" width="116.0" height="125.2" fill="#fff" stroke="#a6a6a6" stroke-width="0.9"/>
<line x1="519.80" y1="182.80" x2="533.30" y2="182.80" stroke="#70AD47" stroke-width="2.2"/>
<text x="536.60" y="189.20" font-size="14.5" text-anchor="start" font-weight="normal" fill="#000" >GATA3</text>
<text x="597.00" y="189.40" font-size="14.5" text-anchor="start" font-weight="normal" fill="#000" >(126)</text>
<line x1="519.80" y1="198.30" x2="533.30" y2="198.30" stroke="#5B9BD5" stroke-width="2.2"/>
<text x="536.60" y="204.70" font-size="14.5" text-anchor="start" font-weight="normal" fill="#000" >GATA2</text>
<text x="597.00" y="204.90" font-size="14.5" text-anchor="start" font-weight="normal" fill="#000" >(42)</text>
<line x1="519.80" y1="213.80" x2="533.30" y2="213.80" stroke="#FF0000" stroke-width="2.2"/>
<text x="536.60" y="220.20" font-size="14.5" text-anchor="start" font-weight="normal" fill="#000" >POU5F1</text>
<text x="597.00" y="220.40" font-size="14.5" text-anchor="start" font-weight="normal" fill="#000" >(307)</text>
<line x1="519.80" y1="229.30" x2="533.30" y2="229.30" stroke="#2E6FAC" stroke-width="2.2"/>
<text x="536.60" y="235.70" font-size="14.5" text-anchor="start" font-weight="normal" fill="#000" >DPPA4</text>
<text x="597.00" y="235.90" font-size="14.5" text-anchor="start" font-weight="normal" fill="#000" >(17)</text>
<line x1="519.80" y1="244.80" x2="533.30" y2="244.80" stroke="#FFC000" stroke-width="2.2"/>
<text x="536.60" y="251.20" font-size="14.5" text-anchor="start" font-weight="normal" fill="#000" >PDGFRA</text>
<text x="595.70" y="251.40" font-size="14.5" text-anchor="start" font-weight="normal" fill="#000" >(0)</text>
<line x1="519.80" y1="260.30" x2="533.30" y2="260.30" stroke="#7F7F7F" stroke-width="2.2"/>
<text x="536.60" y="266.70" font-size="14.5" text-anchor="start" font-weight="normal" fill="#000" >SOX2</text>
<text x="597.00" y="266.90" font-size="14.5" text-anchor="start" font-weight="normal" fill="#000" >(0.9)</text>
<line x1="519.80" y1="275.80" x2="533.30" y2="275.80" stroke="#8B0A0A" stroke-width="2.2"/>
<text x="536.60" y="282.20" font-size="14.5" text-anchor="start" font-weight="normal" fill="#000" >TDGF1</text>
<text x="597.00" y="282.40" font-size="14.5" text-anchor="start" font-weight="normal" fill="#000" >(0.1)</text>
<line x1="519.80" y1="291.30" x2="533.30" y2="291.30" stroke="#000" stroke-width="2.2"/>
<text x="536.60" y="297.70" font-size="14.5" text-anchor="start" font-weight="normal" fill="#000" >DAB2</text>
<text x="597.00" y="297.90" font-size="14.5" text-anchor="start" font-weight="normal" fill="#000" >(95)</text>
<path d="M635.5 186.4 L642.7 186.4 L642.7 203.2 L635.5 203.2" fill="none" stroke="#000" stroke-width="2.4" stroke-linejoin="miter"/>
<path d="M642.7 195.1 L664.1 195.1" fill="none" stroke="#000" stroke-width="2.4" stroke-linejoin="miter"/>
<path d="M635.5 217.8 L650.0 217.8 L650.0 233.3 L635.5 233.3" fill="none" stroke="#000" stroke-width="2.4" stroke-linejoin="miter"/>
<path d="M650.0 226.5 L663.6 226.5" fill="none" stroke="#000" stroke-width="2.4" stroke-linejoin="miter"/>
<path d="M663.6 195.1 L663.6 226.5" fill="none" stroke="#000" stroke-width="2.4" stroke-linejoin="miter"/>
<path d="M663.6 211.8 L671.0 211.8" fill="none" stroke="#000" stroke-width="2.4" stroke-linejoin="miter"/>
<path d="M635.5 248.5 L650.3 248.5 L650.3 263.8 L635.5 263.8" fill="none" stroke="#000" stroke-width="2.4" stroke-linejoin="miter"/>
<path d="M650.3 257.5 L671.0 257.5" fill="none" stroke="#000" stroke-width="2.4" stroke-linejoin="miter"/>
<path d="M671.0 211.8 L671.0 257.5" fill="none" stroke="#000" stroke-width="2.4" stroke-linejoin="miter"/>
<path d="M671.0 235.9 L677.6 235.9" fill="none" stroke="#000" stroke-width="2.4" stroke-linejoin="miter"/>
<path d="M635.5 279.6 L671.0 279.6 L671.0 294.3 L635.5 294.3" fill="none" stroke="#000" stroke-width="2.4" stroke-linejoin="miter"/>
<path d="M671.0 287.1 L677.6 287.1" fill="none" stroke="#000" stroke-width="2.4" stroke-linejoin="miter"/>
<path d="M677.6 235.9 L677.6 287.1" fill="none" stroke="#000" stroke-width="2.4" stroke-linejoin="miter"/>
<path d="M677.6 264.7 L683.9 264.7 L683.9 315.0" fill="none" stroke="#000" stroke-width="2.4" stroke-linejoin="miter"/>
</svg></body></html>
